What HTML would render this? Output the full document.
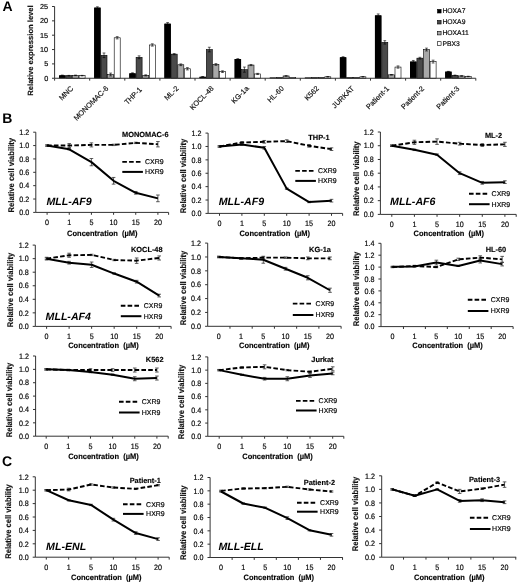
<!DOCTYPE html>
<html><head><meta charset="utf-8"><title>Figure</title>
<style>
html,body{margin:0;padding:0;background:#fff;}
body{width:520px;height:584px;overflow:hidden;}
svg{display:block;font-family:"Liberation Sans", sans-serif;text-rendering:geometricPrecision;filter:grayscale(1) blur(0.3px);}
text:not([font-weight]){stroke:#111;stroke-width:0.18px;}
.ax{stroke:#111;stroke-width:0.15px;}
</style></head>
<body>
<svg width="520" height="584" viewBox="0 0 520 584">
<rect width="520" height="584" fill="#fff"/>
<text x="2.6" y="11.3" font-size="14" font-weight="bold" fill="#000">A</text>
<text x="2.2" y="122.6" font-size="14" font-weight="bold" fill="#000">B</text>
<text x="2" y="466" font-size="14" font-weight="bold" fill="#000">C</text>
<rect x="59.3" y="75.38" width="6" height="2.87" fill="#000"/>
<rect x="59" y="75.38" width="6.6" height="2.87" fill="#000"/>
<line x1="62.3" y1="75.09" x2="62.3" y2="75.67" stroke="#000" stroke-width="0.6" />
<line x1="60.9" y1="75.09" x2="63.7" y2="75.09" stroke="#000" stroke-width="0.6" />
<line x1="60.9" y1="75.67" x2="63.7" y2="75.67" stroke="#000" stroke-width="0.6" />
<rect x="65.9" y="75.67" width="6" height="2.58" fill="#4a4a4a" stroke="#000" stroke-width="0.6"/>
<line x1="68.9" y1="75.38" x2="68.9" y2="75.95" stroke="#000" stroke-width="0.6" />
<line x1="67.5" y1="75.38" x2="70.3" y2="75.38" stroke="#000" stroke-width="0.6" />
<line x1="67.5" y1="75.95" x2="70.3" y2="75.95" stroke="#000" stroke-width="0.6" />
<rect x="72.5" y="75.38" width="6" height="2.87" fill="#a8a8a8" stroke="#000" stroke-width="0.6"/>
<line x1="75.5" y1="75.09" x2="75.5" y2="75.67" stroke="#000" stroke-width="0.6" />
<line x1="74.1" y1="75.09" x2="76.9" y2="75.09" stroke="#000" stroke-width="0.6" />
<line x1="74.1" y1="75.67" x2="76.9" y2="75.67" stroke="#000" stroke-width="0.6" />
<rect x="79.1" y="75.67" width="6" height="2.58" fill="#fff" stroke="#000" stroke-width="0.6"/>
<line x1="82.1" y1="75.38" x2="82.1" y2="75.95" stroke="#000" stroke-width="0.6" />
<line x1="80.7" y1="75.38" x2="83.5" y2="75.38" stroke="#000" stroke-width="0.6" />
<line x1="80.7" y1="75.95" x2="83.5" y2="75.95" stroke="#000" stroke-width="0.6" />
<text transform="translate(73.75,89) rotate(-45)" text-anchor="end" font-size="7.3" fill="#111">MNC</text>
<rect x="94.4" y="7.65" width="6" height="70.6" fill="#000"/>
<rect x="94.1" y="7.65" width="6.6" height="70.6" fill="#000"/>
<line x1="97.4" y1="6.79" x2="97.4" y2="8.51" stroke="#000" stroke-width="0.6" />
<line x1="96" y1="6.79" x2="98.8" y2="6.79" stroke="#000" stroke-width="0.6" />
<line x1="96" y1="8.51" x2="98.8" y2="8.51" stroke="#000" stroke-width="0.6" />
<rect x="101" y="55.29" width="6" height="22.96" fill="#4a4a4a" stroke="#000" stroke-width="0.6"/>
<line x1="104" y1="52.99" x2="104" y2="57.59" stroke="#000" stroke-width="0.6" />
<line x1="102.6" y1="52.99" x2="105.4" y2="52.99" stroke="#000" stroke-width="0.6" />
<line x1="102.6" y1="57.59" x2="105.4" y2="57.59" stroke="#000" stroke-width="0.6" />
<rect x="107.6" y="74.52" width="6" height="3.73" fill="#a8a8a8" stroke="#000" stroke-width="0.6"/>
<line x1="110.6" y1="73.08" x2="110.6" y2="75.95" stroke="#000" stroke-width="0.6" />
<line x1="109.2" y1="73.08" x2="112" y2="73.08" stroke="#000" stroke-width="0.6" />
<line x1="109.2" y1="75.95" x2="112" y2="75.95" stroke="#000" stroke-width="0.6" />
<rect x="114.2" y="37.78" width="6" height="40.47" fill="#fff" stroke="#000" stroke-width="0.6"/>
<line x1="117.2" y1="36.63" x2="117.2" y2="38.93" stroke="#000" stroke-width="0.6" />
<line x1="115.8" y1="36.63" x2="118.6" y2="36.63" stroke="#000" stroke-width="0.6" />
<line x1="115.8" y1="38.93" x2="118.6" y2="38.93" stroke="#000" stroke-width="0.6" />
<text transform="translate(108.85,89) rotate(-45)" text-anchor="end" font-size="7.3" fill="#111">MONOMAC-6</text>
<rect x="129.5" y="73.37" width="6" height="4.88" fill="#000"/>
<rect x="129.2" y="73.37" width="6.6" height="4.88" fill="#000"/>
<line x1="132.5" y1="72.8" x2="132.5" y2="73.94" stroke="#000" stroke-width="0.6" />
<line x1="131.1" y1="72.8" x2="133.9" y2="72.8" stroke="#000" stroke-width="0.6" />
<line x1="131.1" y1="73.94" x2="133.9" y2="73.94" stroke="#000" stroke-width="0.6" />
<rect x="136.1" y="57.3" width="6" height="20.95" fill="#4a4a4a" stroke="#000" stroke-width="0.6"/>
<line x1="139.1" y1="55.86" x2="139.1" y2="58.73" stroke="#000" stroke-width="0.6" />
<line x1="137.7" y1="55.86" x2="140.5" y2="55.86" stroke="#000" stroke-width="0.6" />
<line x1="137.7" y1="58.73" x2="140.5" y2="58.73" stroke="#000" stroke-width="0.6" />
<rect x="142.7" y="75.38" width="6" height="2.87" fill="#a8a8a8" stroke="#000" stroke-width="0.6"/>
<line x1="145.7" y1="74.81" x2="145.7" y2="75.95" stroke="#000" stroke-width="0.6" />
<line x1="144.3" y1="74.81" x2="147.1" y2="74.81" stroke="#000" stroke-width="0.6" />
<line x1="144.3" y1="75.95" x2="147.1" y2="75.95" stroke="#000" stroke-width="0.6" />
<rect x="149.3" y="44.96" width="6" height="33.29" fill="#fff" stroke="#000" stroke-width="0.6"/>
<line x1="152.3" y1="43.81" x2="152.3" y2="46.11" stroke="#000" stroke-width="0.6" />
<line x1="150.9" y1="43.81" x2="153.7" y2="43.81" stroke="#000" stroke-width="0.6" />
<line x1="150.9" y1="46.11" x2="153.7" y2="46.11" stroke="#000" stroke-width="0.6" />
<text transform="translate(142.35,90.2) rotate(-45)" text-anchor="end" font-size="7.3" fill="#111">THP-1</text>
<rect x="164.6" y="23.72" width="6" height="54.53" fill="#000"/>
<rect x="164.3" y="23.72" width="6.6" height="54.53" fill="#000"/>
<line x1="167.6" y1="22.57" x2="167.6" y2="24.87" stroke="#000" stroke-width="0.6" />
<line x1="166.2" y1="22.57" x2="169" y2="22.57" stroke="#000" stroke-width="0.6" />
<line x1="166.2" y1="24.87" x2="169" y2="24.87" stroke="#000" stroke-width="0.6" />
<rect x="171.2" y="54.14" width="6" height="24.11" fill="#4a4a4a" stroke="#000" stroke-width="0.6"/>
<line x1="174.2" y1="53.57" x2="174.2" y2="54.72" stroke="#000" stroke-width="0.6" />
<line x1="172.8" y1="53.57" x2="175.6" y2="53.57" stroke="#000" stroke-width="0.6" />
<line x1="172.8" y1="54.72" x2="175.6" y2="54.72" stroke="#000" stroke-width="0.6" />
<rect x="177.8" y="64.76" width="6" height="13.49" fill="#a8a8a8" stroke="#000" stroke-width="0.6"/>
<line x1="180.8" y1="63.9" x2="180.8" y2="65.62" stroke="#000" stroke-width="0.6" />
<line x1="179.4" y1="63.9" x2="182.2" y2="63.9" stroke="#000" stroke-width="0.6" />
<line x1="179.4" y1="65.62" x2="182.2" y2="65.62" stroke="#000" stroke-width="0.6" />
<rect x="184.4" y="68.78" width="6" height="9.47" fill="#fff" stroke="#000" stroke-width="0.6"/>
<line x1="187.4" y1="67.63" x2="187.4" y2="69.93" stroke="#000" stroke-width="0.6" />
<line x1="186" y1="67.63" x2="188.8" y2="67.63" stroke="#000" stroke-width="0.6" />
<line x1="186" y1="69.93" x2="188.8" y2="69.93" stroke="#000" stroke-width="0.6" />
<text transform="translate(179.05,89) rotate(-45)" text-anchor="end" font-size="7.3" fill="#111">ML-2</text>
<rect x="199.7" y="76.81" width="6" height="1.44" fill="#000"/>
<rect x="199.4" y="76.81" width="6.6" height="1.44" fill="#000"/>
<line x1="202.7" y1="76.53" x2="202.7" y2="77.1" stroke="#000" stroke-width="0.6" />
<line x1="201.3" y1="76.53" x2="204.1" y2="76.53" stroke="#000" stroke-width="0.6" />
<line x1="201.3" y1="77.1" x2="204.1" y2="77.1" stroke="#000" stroke-width="0.6" />
<rect x="206.3" y="49.55" width="6" height="28.7" fill="#4a4a4a" stroke="#000" stroke-width="0.6"/>
<line x1="209.3" y1="47.25" x2="209.3" y2="51.85" stroke="#000" stroke-width="0.6" />
<line x1="207.9" y1="47.25" x2="210.7" y2="47.25" stroke="#000" stroke-width="0.6" />
<line x1="207.9" y1="51.85" x2="210.7" y2="51.85" stroke="#000" stroke-width="0.6" />
<rect x="212.9" y="64.47" width="6" height="13.78" fill="#a8a8a8" stroke="#000" stroke-width="0.6"/>
<line x1="215.9" y1="63.61" x2="215.9" y2="65.33" stroke="#000" stroke-width="0.6" />
<line x1="214.5" y1="63.61" x2="217.3" y2="63.61" stroke="#000" stroke-width="0.6" />
<line x1="214.5" y1="65.33" x2="217.3" y2="65.33" stroke="#000" stroke-width="0.6" />
<rect x="219.5" y="71.65" width="6" height="6.6" fill="#fff" stroke="#000" stroke-width="0.6"/>
<line x1="222.5" y1="70.79" x2="222.5" y2="72.51" stroke="#000" stroke-width="0.6" />
<line x1="221.1" y1="70.79" x2="223.9" y2="70.79" stroke="#000" stroke-width="0.6" />
<line x1="221.1" y1="72.51" x2="223.9" y2="72.51" stroke="#000" stroke-width="0.6" />
<text transform="translate(214.15,89) rotate(-45)" text-anchor="end" font-size="7.3" fill="#111">KOCL-48</text>
<rect x="234.8" y="59.02" width="6" height="19.23" fill="#000"/>
<rect x="234.5" y="59.02" width="6.6" height="19.23" fill="#000"/>
<line x1="237.8" y1="58.73" x2="237.8" y2="59.31" stroke="#000" stroke-width="0.6" />
<line x1="236.4" y1="58.73" x2="239.2" y2="58.73" stroke="#000" stroke-width="0.6" />
<line x1="236.4" y1="59.31" x2="239.2" y2="59.31" stroke="#000" stroke-width="0.6" />
<rect x="241.4" y="69.64" width="6" height="8.61" fill="#4a4a4a" stroke="#000" stroke-width="0.6"/>
<line x1="244.4" y1="67.06" x2="244.4" y2="72.22" stroke="#000" stroke-width="0.6" />
<line x1="243" y1="67.06" x2="245.8" y2="67.06" stroke="#000" stroke-width="0.6" />
<line x1="243" y1="72.22" x2="245.8" y2="72.22" stroke="#000" stroke-width="0.6" />
<rect x="248" y="65.05" width="6" height="13.2" fill="#a8a8a8" stroke="#000" stroke-width="0.6"/>
<line x1="251" y1="64.47" x2="251" y2="65.62" stroke="#000" stroke-width="0.6" />
<line x1="249.6" y1="64.47" x2="252.4" y2="64.47" stroke="#000" stroke-width="0.6" />
<line x1="249.6" y1="65.62" x2="252.4" y2="65.62" stroke="#000" stroke-width="0.6" />
<rect x="254.6" y="73.94" width="6" height="4.3" fill="#fff" stroke="#000" stroke-width="0.6"/>
<line x1="257.6" y1="73.37" x2="257.6" y2="74.52" stroke="#000" stroke-width="0.6" />
<line x1="256.2" y1="73.37" x2="259" y2="73.37" stroke="#000" stroke-width="0.6" />
<line x1="256.2" y1="74.52" x2="259" y2="74.52" stroke="#000" stroke-width="0.6" />
<text transform="translate(249.25,89) rotate(-45)" text-anchor="end" font-size="7.3" fill="#111">KG-1a</text>
<rect x="269.9" y="77.65" width="6" height="0.6" fill="#000"/>
<rect x="269.6" y="77.65" width="6.6" height="0.6" fill="#000"/>
<rect x="276.5" y="77.65" width="6" height="0.6" fill="#4a4a4a" stroke="#000" stroke-width="0.6"/>
<rect x="283.1" y="75.95" width="6" height="2.3" fill="#a8a8a8" stroke="#000" stroke-width="0.6"/>
<line x1="286.1" y1="75.67" x2="286.1" y2="76.24" stroke="#000" stroke-width="0.6" />
<line x1="284.7" y1="75.67" x2="287.5" y2="75.67" stroke="#000" stroke-width="0.6" />
<line x1="284.7" y1="76.24" x2="287.5" y2="76.24" stroke="#000" stroke-width="0.6" />
<rect x="289.7" y="77.39" width="6" height="0.86" fill="#fff" stroke="#000" stroke-width="0.6"/>
<text transform="translate(284.35,89) rotate(-45)" text-anchor="end" font-size="7.3" fill="#111">HL-60</text>
<rect x="305" y="77.65" width="6" height="0.6" fill="#000"/>
<rect x="304.7" y="77.65" width="6.6" height="0.6" fill="#000"/>
<rect x="311.6" y="77.65" width="6" height="0.6" fill="#4a4a4a" stroke="#000" stroke-width="0.6"/>
<rect x="318.2" y="77.39" width="6" height="0.86" fill="#a8a8a8" stroke="#000" stroke-width="0.6"/>
<rect x="324.8" y="76.81" width="6" height="1.44" fill="#fff" stroke="#000" stroke-width="0.6"/>
<line x1="327.8" y1="76.53" x2="327.8" y2="77.1" stroke="#000" stroke-width="0.6" />
<line x1="326.4" y1="76.53" x2="329.2" y2="76.53" stroke="#000" stroke-width="0.6" />
<line x1="326.4" y1="77.1" x2="329.2" y2="77.1" stroke="#000" stroke-width="0.6" />
<text transform="translate(319.45,89) rotate(-45)" text-anchor="end" font-size="7.3" fill="#111">K562</text>
<rect x="340.1" y="57.3" width="6" height="20.95" fill="#000"/>
<rect x="339.8" y="57.3" width="6.6" height="20.95" fill="#000"/>
<line x1="343.1" y1="56.72" x2="343.1" y2="57.87" stroke="#000" stroke-width="0.6" />
<line x1="341.7" y1="56.72" x2="344.5" y2="56.72" stroke="#000" stroke-width="0.6" />
<line x1="341.7" y1="57.87" x2="344.5" y2="57.87" stroke="#000" stroke-width="0.6" />
<rect x="346.7" y="77.65" width="6" height="0.6" fill="#4a4a4a" stroke="#000" stroke-width="0.6"/>
<rect x="353.3" y="77.39" width="6" height="0.86" fill="#a8a8a8" stroke="#000" stroke-width="0.6"/>
<rect x="359.9" y="76.81" width="6" height="1.44" fill="#fff" stroke="#000" stroke-width="0.6"/>
<line x1="362.9" y1="76.53" x2="362.9" y2="77.1" stroke="#000" stroke-width="0.6" />
<line x1="361.5" y1="76.53" x2="364.3" y2="76.53" stroke="#000" stroke-width="0.6" />
<line x1="361.5" y1="77.1" x2="364.3" y2="77.1" stroke="#000" stroke-width="0.6" />
<text transform="translate(354.55,89) rotate(-45)" text-anchor="end" font-size="7.3" fill="#111">JURKAT</text>
<rect x="375.2" y="15.4" width="6" height="62.85" fill="#000"/>
<rect x="374.9" y="15.4" width="6.6" height="62.85" fill="#000"/>
<line x1="378.2" y1="13.96" x2="378.2" y2="16.83" stroke="#000" stroke-width="0.6" />
<line x1="376.8" y1="13.96" x2="379.6" y2="13.96" stroke="#000" stroke-width="0.6" />
<line x1="376.8" y1="16.83" x2="379.6" y2="16.83" stroke="#000" stroke-width="0.6" />
<rect x="381.8" y="42.38" width="6" height="35.88" fill="#4a4a4a" stroke="#000" stroke-width="0.6"/>
<line x1="384.8" y1="40.65" x2="384.8" y2="44.1" stroke="#000" stroke-width="0.6" />
<line x1="383.4" y1="40.65" x2="386.2" y2="40.65" stroke="#000" stroke-width="0.6" />
<line x1="383.4" y1="44.1" x2="386.2" y2="44.1" stroke="#000" stroke-width="0.6" />
<rect x="388.4" y="74.81" width="6" height="3.44" fill="#a8a8a8" stroke="#000" stroke-width="0.6"/>
<line x1="391.4" y1="74.52" x2="391.4" y2="75.09" stroke="#000" stroke-width="0.6" />
<line x1="390" y1="74.52" x2="392.8" y2="74.52" stroke="#000" stroke-width="0.6" />
<line x1="390" y1="75.09" x2="392.8" y2="75.09" stroke="#000" stroke-width="0.6" />
<rect x="395" y="67.06" width="6" height="11.19" fill="#fff" stroke="#000" stroke-width="0.6"/>
<line x1="398" y1="65.91" x2="398" y2="68.2" stroke="#000" stroke-width="0.6" />
<line x1="396.6" y1="65.91" x2="399.4" y2="65.91" stroke="#000" stroke-width="0.6" />
<line x1="396.6" y1="68.2" x2="399.4" y2="68.2" stroke="#000" stroke-width="0.6" />
<text transform="translate(389.65,89) rotate(-45)" text-anchor="end" font-size="7.3" fill="#111">Patient-1</text>
<rect x="410.3" y="61.6" width="6" height="16.65" fill="#000"/>
<rect x="410" y="61.6" width="6.6" height="16.65" fill="#000"/>
<line x1="413.3" y1="60.46" x2="413.3" y2="62.75" stroke="#000" stroke-width="0.6" />
<line x1="411.9" y1="60.46" x2="414.7" y2="60.46" stroke="#000" stroke-width="0.6" />
<line x1="411.9" y1="62.75" x2="414.7" y2="62.75" stroke="#000" stroke-width="0.6" />
<rect x="416.9" y="58.16" width="6" height="20.09" fill="#4a4a4a" stroke="#000" stroke-width="0.6"/>
<line x1="419.9" y1="57.3" x2="419.9" y2="59.02" stroke="#000" stroke-width="0.6" />
<line x1="418.5" y1="57.3" x2="421.3" y2="57.3" stroke="#000" stroke-width="0.6" />
<line x1="418.5" y1="59.02" x2="421.3" y2="59.02" stroke="#000" stroke-width="0.6" />
<rect x="423.5" y="49.55" width="6" height="28.7" fill="#a8a8a8" stroke="#000" stroke-width="0.6"/>
<line x1="426.5" y1="48.11" x2="426.5" y2="50.98" stroke="#000" stroke-width="0.6" />
<line x1="425.1" y1="48.11" x2="427.9" y2="48.11" stroke="#000" stroke-width="0.6" />
<line x1="425.1" y1="50.98" x2="427.9" y2="50.98" stroke="#000" stroke-width="0.6" />
<rect x="430.1" y="61.6" width="6" height="16.65" fill="#fff" stroke="#000" stroke-width="0.6"/>
<line x1="433.1" y1="60.17" x2="433.1" y2="63.04" stroke="#000" stroke-width="0.6" />
<line x1="431.7" y1="60.17" x2="434.5" y2="60.17" stroke="#000" stroke-width="0.6" />
<line x1="431.7" y1="63.04" x2="434.5" y2="63.04" stroke="#000" stroke-width="0.6" />
<text transform="translate(424.75,89) rotate(-45)" text-anchor="end" font-size="7.3" fill="#111">Patient-2</text>
<rect x="445.4" y="71.65" width="6" height="6.6" fill="#000"/>
<rect x="445.1" y="71.65" width="6.6" height="6.6" fill="#000"/>
<line x1="448.4" y1="71.36" x2="448.4" y2="71.94" stroke="#000" stroke-width="0.6" />
<line x1="447" y1="71.36" x2="449.8" y2="71.36" stroke="#000" stroke-width="0.6" />
<line x1="447" y1="71.94" x2="449.8" y2="71.94" stroke="#000" stroke-width="0.6" />
<rect x="452" y="75.38" width="6" height="2.87" fill="#4a4a4a" stroke="#000" stroke-width="0.6"/>
<line x1="455" y1="75.09" x2="455" y2="75.67" stroke="#000" stroke-width="0.6" />
<line x1="453.6" y1="75.09" x2="456.4" y2="75.09" stroke="#000" stroke-width="0.6" />
<line x1="453.6" y1="75.67" x2="456.4" y2="75.67" stroke="#000" stroke-width="0.6" />
<rect x="458.6" y="75.95" width="6" height="2.3" fill="#a8a8a8" stroke="#000" stroke-width="0.6"/>
<line x1="461.6" y1="75.67" x2="461.6" y2="76.24" stroke="#000" stroke-width="0.6" />
<line x1="460.2" y1="75.67" x2="463" y2="75.67" stroke="#000" stroke-width="0.6" />
<line x1="460.2" y1="76.24" x2="463" y2="76.24" stroke="#000" stroke-width="0.6" />
<rect x="465.2" y="76.53" width="6" height="1.72" fill="#fff" stroke="#000" stroke-width="0.6"/>
<line x1="468.2" y1="76.24" x2="468.2" y2="76.81" stroke="#000" stroke-width="0.6" />
<line x1="466.8" y1="76.24" x2="469.6" y2="76.24" stroke="#000" stroke-width="0.6" />
<line x1="466.8" y1="76.81" x2="469.6" y2="76.81" stroke="#000" stroke-width="0.6" />
<text transform="translate(459.85,89) rotate(-45)" text-anchor="end" font-size="7.3" fill="#111">Patient-3</text>
<line x1="54.6" y1="6.5" x2="54.6" y2="78.25" stroke="#333" stroke-width="1" />
<line x1="54.6" y1="78.25" x2="475.8" y2="78.25" stroke="#333" stroke-width="1" />
<line x1="52" y1="78.25" x2="54.6" y2="78.25" stroke="#333" stroke-width="1" />
<text x="48.2" y="80.81" font-size="7.3" text-anchor="end">0</text>
<line x1="52" y1="63.9" x2="54.6" y2="63.9" stroke="#333" stroke-width="1" />
<text x="48.2" y="66.45" font-size="7.3" text-anchor="end">5</text>
<line x1="52" y1="49.55" x2="54.6" y2="49.55" stroke="#333" stroke-width="1" />
<text x="48.2" y="52.1" font-size="7.3" text-anchor="end">10</text>
<line x1="52" y1="35.2" x2="54.6" y2="35.2" stroke="#333" stroke-width="1" />
<text x="48.2" y="37.75" font-size="7.3" text-anchor="end">15</text>
<line x1="52" y1="20.85" x2="54.6" y2="20.85" stroke="#333" stroke-width="1" />
<text x="48.2" y="23.4" font-size="7.3" text-anchor="end">20</text>
<line x1="52" y1="6.5" x2="54.6" y2="6.5" stroke="#333" stroke-width="1" />
<text x="48.2" y="9.05" font-size="7.3" text-anchor="end">25</text>
<line x1="54.6" y1="78.25" x2="54.6" y2="80.65" stroke="#333" stroke-width="1" />
<line x1="89.7" y1="78.25" x2="89.7" y2="80.65" stroke="#333" stroke-width="1" />
<line x1="124.8" y1="78.25" x2="124.8" y2="80.65" stroke="#333" stroke-width="1" />
<line x1="159.9" y1="78.25" x2="159.9" y2="80.65" stroke="#333" stroke-width="1" />
<line x1="195" y1="78.25" x2="195" y2="80.65" stroke="#333" stroke-width="1" />
<line x1="230.1" y1="78.25" x2="230.1" y2="80.65" stroke="#333" stroke-width="1" />
<line x1="265.2" y1="78.25" x2="265.2" y2="80.65" stroke="#333" stroke-width="1" />
<line x1="300.3" y1="78.25" x2="300.3" y2="80.65" stroke="#333" stroke-width="1" />
<line x1="335.4" y1="78.25" x2="335.4" y2="80.65" stroke="#333" stroke-width="1" />
<line x1="370.5" y1="78.25" x2="370.5" y2="80.65" stroke="#333" stroke-width="1" />
<line x1="405.6" y1="78.25" x2="405.6" y2="80.65" stroke="#333" stroke-width="1" />
<line x1="440.7" y1="78.25" x2="440.7" y2="80.65" stroke="#333" stroke-width="1" />
<line x1="475.8" y1="78.25" x2="475.8" y2="80.65" stroke="#333" stroke-width="1" />
<text transform="translate(32.96,50.5) rotate(-90)" class="ax" text-anchor="middle" font-size="7.6" font-weight="bold" fill="#111">Relative expression level</text>
<rect x="437.5" y="9.4" width="3.6" height="3.6" fill="#000" stroke="#000" stroke-width="0.6"/>
<text x="442.4" y="13.28" font-size="6.8">HOXA7</text>
<rect x="437.5" y="20.4" width="3.6" height="3.6" fill="#4a4a4a" stroke="#000" stroke-width="0.6"/>
<text x="442.4" y="24.28" font-size="6.8">HOXA9</text>
<rect x="437.5" y="31.3" width="3.6" height="3.6" fill="#a8a8a8" stroke="#000" stroke-width="0.6"/>
<text x="442.4" y="35.18" font-size="6.8">HOXA11</text>
<rect x="437.5" y="41.7" width="3.6" height="3.6" fill="#fff" stroke="#000" stroke-width="0.6"/>
<text x="442.4" y="45.58" font-size="6.8">PBX3</text>
<line x1="35.8" y1="132.2" x2="35.8" y2="212.4" stroke="#333" stroke-width="1" />
<line x1="35.8" y1="212.4" x2="168.6" y2="212.4" stroke="#333" stroke-width="1" />
<line x1="33.2" y1="212.4" x2="35.8" y2="212.4" stroke="#333" stroke-width="1" />
<text transform="translate(29.2,215.13) scale(0.92,1)" font-size="7.8" text-anchor="end">0.0</text>
<line x1="33.2" y1="199.03" x2="35.8" y2="199.03" stroke="#333" stroke-width="1" />
<text transform="translate(29.2,201.76) scale(0.92,1)" font-size="7.8" text-anchor="end">0.2</text>
<line x1="33.2" y1="185.67" x2="35.8" y2="185.67" stroke="#333" stroke-width="1" />
<text transform="translate(29.2,188.4) scale(0.92,1)" font-size="7.8" text-anchor="end">0.4</text>
<line x1="33.2" y1="172.3" x2="35.8" y2="172.3" stroke="#333" stroke-width="1" />
<text transform="translate(29.2,175.03) scale(0.92,1)" font-size="7.8" text-anchor="end">0.6</text>
<line x1="33.2" y1="158.93" x2="35.8" y2="158.93" stroke="#333" stroke-width="1" />
<text transform="translate(29.2,161.66) scale(0.92,1)" font-size="7.8" text-anchor="end">0.8</text>
<line x1="33.2" y1="145.57" x2="35.8" y2="145.57" stroke="#333" stroke-width="1" />
<text transform="translate(29.2,148.3) scale(0.92,1)" font-size="7.8" text-anchor="end">1.0</text>
<line x1="33.2" y1="132.2" x2="35.8" y2="132.2" stroke="#333" stroke-width="1" />
<text transform="translate(29.2,134.93) scale(0.92,1)" font-size="7.8" text-anchor="end">1.2</text>
<line x1="47.1" y1="212.4" x2="47.1" y2="214.8" stroke="#333" stroke-width="1" />
<line x1="69.26" y1="212.4" x2="69.26" y2="214.8" stroke="#333" stroke-width="1" />
<line x1="91.42" y1="212.4" x2="91.42" y2="214.8" stroke="#333" stroke-width="1" />
<line x1="113.58" y1="212.4" x2="113.58" y2="214.8" stroke="#333" stroke-width="1" />
<line x1="135.74" y1="212.4" x2="135.74" y2="214.8" stroke="#333" stroke-width="1" />
<line x1="157.9" y1="212.4" x2="157.9" y2="214.8" stroke="#333" stroke-width="1" />
<line x1="168.6" y1="212.4" x2="168.6" y2="214.8" stroke="#333" stroke-width="1" />
<text transform="translate(47.1,225.13) scale(0.92,1)" font-size="7.8" text-anchor="middle">0</text>
<text transform="translate(69.26,225.13) scale(0.92,1)" font-size="7.8" text-anchor="middle">1</text>
<text transform="translate(91.42,225.13) scale(0.92,1)" font-size="7.8" text-anchor="middle">5</text>
<text transform="translate(113.58,225.13) scale(0.92,1)" font-size="7.8" text-anchor="middle">10</text>
<text transform="translate(135.74,225.13) scale(0.92,1)" font-size="7.8" text-anchor="middle">15</text>
<text transform="translate(157.9,225.13) scale(0.92,1)" font-size="7.8" text-anchor="middle">20</text>
<text transform="translate(102.35,235.81) scale(0.95,1)" font-size="7.9" font-weight="bold" text-anchor="middle" class="ax">Concentration  (µM)</text>
<text transform="translate(13.85,175.2) rotate(-90) scale(0.93,1)" class="ax" text-anchor="middle" font-size="8.2" font-weight="bold" fill="#111">Relative cell viability</text>
<line x1="47.1" y1="144.9" x2="47.1" y2="146.23" stroke="#333" stroke-width="0.8" />
<line x1="45.3" y1="144.9" x2="48.9" y2="144.9" stroke="#333" stroke-width="0.8" />
<line x1="45.3" y1="146.23" x2="48.9" y2="146.23" stroke="#333" stroke-width="0.8" />
<line x1="69.26" y1="143.56" x2="69.26" y2="147.57" stroke="#333" stroke-width="0.8" />
<line x1="67.46" y1="143.56" x2="71.06" y2="143.56" stroke="#333" stroke-width="0.8" />
<line x1="67.46" y1="147.57" x2="71.06" y2="147.57" stroke="#333" stroke-width="0.8" />
<line x1="91.42" y1="142.89" x2="91.42" y2="146.9" stroke="#333" stroke-width="0.8" />
<line x1="89.62" y1="142.89" x2="93.22" y2="142.89" stroke="#333" stroke-width="0.8" />
<line x1="89.62" y1="146.9" x2="93.22" y2="146.9" stroke="#333" stroke-width="0.8" />
<line x1="113.58" y1="144.23" x2="113.58" y2="145.57" stroke="#333" stroke-width="0.8" />
<line x1="111.78" y1="144.23" x2="115.38" y2="144.23" stroke="#333" stroke-width="0.8" />
<line x1="111.78" y1="145.57" x2="115.38" y2="145.57" stroke="#333" stroke-width="0.8" />
<line x1="135.74" y1="142.22" x2="135.74" y2="143.56" stroke="#333" stroke-width="0.8" />
<line x1="133.94" y1="142.22" x2="137.54" y2="142.22" stroke="#333" stroke-width="0.8" />
<line x1="133.94" y1="143.56" x2="137.54" y2="143.56" stroke="#333" stroke-width="0.8" />
<line x1="157.9" y1="141.56" x2="157.9" y2="146.9" stroke="#333" stroke-width="0.8" />
<line x1="156.1" y1="141.56" x2="159.7" y2="141.56" stroke="#333" stroke-width="0.8" />
<line x1="156.1" y1="146.9" x2="159.7" y2="146.9" stroke="#333" stroke-width="0.8" />
<line x1="47.1" y1="144.9" x2="47.1" y2="146.23" stroke="#333" stroke-width="0.8" />
<line x1="45.3" y1="144.9" x2="48.9" y2="144.9" stroke="#333" stroke-width="0.8" />
<line x1="45.3" y1="146.23" x2="48.9" y2="146.23" stroke="#333" stroke-width="0.8" />
<line x1="69.26" y1="148.64" x2="69.26" y2="149.98" stroke="#333" stroke-width="0.8" />
<line x1="67.46" y1="148.64" x2="71.06" y2="148.64" stroke="#333" stroke-width="0.8" />
<line x1="67.46" y1="149.98" x2="71.06" y2="149.98" stroke="#333" stroke-width="0.8" />
<line x1="91.42" y1="158.53" x2="91.42" y2="165.75" stroke="#333" stroke-width="0.8" />
<line x1="89.62" y1="158.53" x2="93.22" y2="158.53" stroke="#333" stroke-width="0.8" />
<line x1="89.62" y1="165.75" x2="93.22" y2="165.75" stroke="#333" stroke-width="0.8" />
<line x1="113.58" y1="177.45" x2="113.58" y2="184.13" stroke="#333" stroke-width="0.8" />
<line x1="111.78" y1="177.45" x2="115.38" y2="177.45" stroke="#333" stroke-width="0.8" />
<line x1="111.78" y1="184.13" x2="115.38" y2="184.13" stroke="#333" stroke-width="0.8" />
<line x1="135.74" y1="191.48" x2="135.74" y2="194.15" stroke="#333" stroke-width="0.8" />
<line x1="133.94" y1="191.48" x2="137.54" y2="191.48" stroke="#333" stroke-width="0.8" />
<line x1="133.94" y1="194.15" x2="137.54" y2="194.15" stroke="#333" stroke-width="0.8" />
<line x1="157.9" y1="195.02" x2="157.9" y2="201.71" stroke="#333" stroke-width="0.8" />
<line x1="156.1" y1="195.02" x2="159.7" y2="195.02" stroke="#333" stroke-width="0.8" />
<line x1="156.1" y1="201.71" x2="159.7" y2="201.71" stroke="#333" stroke-width="0.8" />
<path d="M47.1,145.57 L69.26,145.57 L91.42,144.9 L113.58,144.9 L135.74,142.89 L157.9,144.23" fill="none" stroke="#000" stroke-width="1.9" stroke-dasharray="4.6,2.2" stroke-linejoin="round"/>
<path d="M47.1,145.57 L69.26,149.31 L91.42,162.14 L113.58,180.79 L135.74,192.82 L157.9,198.37" fill="none" stroke="#000" stroke-width="2" stroke-linejoin="round"/>
<text x="168.5" y="137.04" font-size="7.4" font-weight="bold" text-anchor="end" class="ax">MONOMAC-6</text>
<line x1="122.3" y1="161.9" x2="141.3" y2="161.9" stroke="#000" stroke-width="1.9" stroke-dasharray="4.6,2.2"/>
<line x1="122.3" y1="171.9" x2="142.9" y2="171.9" stroke="#000" stroke-width="2" />
<text x="145" y="164.35" font-size="7">CXR9</text>
<text x="145" y="174.35" font-size="7">HXR9</text>
<text x="46.4" y="205.46" font-size="10.6" font-weight="bold" font-style="italic" fill="#000">MLL-AF9</text>
<line x1="208.1" y1="133.1" x2="208.1" y2="213.4" stroke="#333" stroke-width="1" />
<line x1="208.1" y1="213.4" x2="342.6" y2="213.4" stroke="#333" stroke-width="1" />
<line x1="205.5" y1="213.4" x2="208.1" y2="213.4" stroke="#333" stroke-width="1" />
<text transform="translate(201.5,216.13) scale(0.92,1)" font-size="7.8" text-anchor="end">0.0</text>
<line x1="205.5" y1="200.02" x2="208.1" y2="200.02" stroke="#333" stroke-width="1" />
<text transform="translate(201.5,202.75) scale(0.92,1)" font-size="7.8" text-anchor="end">0.2</text>
<line x1="205.5" y1="186.63" x2="208.1" y2="186.63" stroke="#333" stroke-width="1" />
<text transform="translate(201.5,189.36) scale(0.92,1)" font-size="7.8" text-anchor="end">0.4</text>
<line x1="205.5" y1="173.25" x2="208.1" y2="173.25" stroke="#333" stroke-width="1" />
<text transform="translate(201.5,175.98) scale(0.92,1)" font-size="7.8" text-anchor="end">0.6</text>
<line x1="205.5" y1="159.87" x2="208.1" y2="159.87" stroke="#333" stroke-width="1" />
<text transform="translate(201.5,162.6) scale(0.92,1)" font-size="7.8" text-anchor="end">0.8</text>
<line x1="205.5" y1="146.48" x2="208.1" y2="146.48" stroke="#333" stroke-width="1" />
<text transform="translate(201.5,149.21) scale(0.92,1)" font-size="7.8" text-anchor="end">1.0</text>
<line x1="205.5" y1="133.1" x2="208.1" y2="133.1" stroke="#333" stroke-width="1" />
<text transform="translate(201.5,135.83) scale(0.92,1)" font-size="7.8" text-anchor="end">1.2</text>
<line x1="219.5" y1="213.4" x2="219.5" y2="215.8" stroke="#333" stroke-width="1" />
<line x1="241.9" y1="213.4" x2="241.9" y2="215.8" stroke="#333" stroke-width="1" />
<line x1="264.3" y1="213.4" x2="264.3" y2="215.8" stroke="#333" stroke-width="1" />
<line x1="286.7" y1="213.4" x2="286.7" y2="215.8" stroke="#333" stroke-width="1" />
<line x1="309.1" y1="213.4" x2="309.1" y2="215.8" stroke="#333" stroke-width="1" />
<line x1="331.5" y1="213.4" x2="331.5" y2="215.8" stroke="#333" stroke-width="1" />
<line x1="342.6" y1="213.4" x2="342.6" y2="215.8" stroke="#333" stroke-width="1" />
<text transform="translate(219.5,226.13) scale(0.92,1)" font-size="7.8" text-anchor="middle">0</text>
<text transform="translate(241.9,226.13) scale(0.92,1)" font-size="7.8" text-anchor="middle">1</text>
<text transform="translate(264.3,226.13) scale(0.92,1)" font-size="7.8" text-anchor="middle">5</text>
<text transform="translate(286.7,226.13) scale(0.92,1)" font-size="7.8" text-anchor="middle">10</text>
<text transform="translate(309.1,226.13) scale(0.92,1)" font-size="7.8" text-anchor="middle">15</text>
<text transform="translate(331.5,226.13) scale(0.92,1)" font-size="7.8" text-anchor="middle">20</text>
<text transform="translate(274.7,236.16) scale(0.95,1)" font-size="7.9" font-weight="bold" text-anchor="middle" class="ax">Concentration  (µM)</text>
<text transform="translate(185.75,176.1) rotate(-90) scale(0.93,1)" class="ax" text-anchor="middle" font-size="8.2" font-weight="bold" fill="#111">Relative cell viability</text>
<line x1="219.5" y1="145.81" x2="219.5" y2="147.15" stroke="#333" stroke-width="0.8" />
<line x1="217.7" y1="145.81" x2="221.3" y2="145.81" stroke="#333" stroke-width="0.8" />
<line x1="217.7" y1="147.15" x2="221.3" y2="147.15" stroke="#333" stroke-width="0.8" />
<line x1="241.9" y1="141.8" x2="241.9" y2="143.14" stroke="#333" stroke-width="0.8" />
<line x1="240.1" y1="141.8" x2="243.7" y2="141.8" stroke="#333" stroke-width="0.8" />
<line x1="240.1" y1="143.14" x2="243.7" y2="143.14" stroke="#333" stroke-width="0.8" />
<line x1="264.3" y1="140.46" x2="264.3" y2="143.14" stroke="#333" stroke-width="0.8" />
<line x1="262.5" y1="140.46" x2="266.1" y2="140.46" stroke="#333" stroke-width="0.8" />
<line x1="262.5" y1="143.14" x2="266.1" y2="143.14" stroke="#333" stroke-width="0.8" />
<line x1="286.7" y1="139.79" x2="286.7" y2="142.47" stroke="#333" stroke-width="0.8" />
<line x1="284.9" y1="139.79" x2="288.5" y2="139.79" stroke="#333" stroke-width="0.8" />
<line x1="284.9" y1="142.47" x2="288.5" y2="142.47" stroke="#333" stroke-width="0.8" />
<line x1="309.1" y1="144.48" x2="309.1" y2="147.15" stroke="#333" stroke-width="0.8" />
<line x1="307.3" y1="144.48" x2="310.9" y2="144.48" stroke="#333" stroke-width="0.8" />
<line x1="307.3" y1="147.15" x2="310.9" y2="147.15" stroke="#333" stroke-width="0.8" />
<line x1="331.5" y1="147.82" x2="331.5" y2="150.5" stroke="#333" stroke-width="0.8" />
<line x1="329.7" y1="147.82" x2="333.3" y2="147.82" stroke="#333" stroke-width="0.8" />
<line x1="329.7" y1="150.5" x2="333.3" y2="150.5" stroke="#333" stroke-width="0.8" />
<line x1="219.5" y1="145.81" x2="219.5" y2="147.15" stroke="#333" stroke-width="0.8" />
<line x1="217.7" y1="145.81" x2="221.3" y2="145.81" stroke="#333" stroke-width="0.8" />
<line x1="217.7" y1="147.15" x2="221.3" y2="147.15" stroke="#333" stroke-width="0.8" />
<line x1="241.9" y1="143.81" x2="241.9" y2="145.14" stroke="#333" stroke-width="0.8" />
<line x1="240.1" y1="143.81" x2="243.7" y2="143.81" stroke="#333" stroke-width="0.8" />
<line x1="240.1" y1="145.14" x2="243.7" y2="145.14" stroke="#333" stroke-width="0.8" />
<line x1="264.3" y1="146.48" x2="264.3" y2="149.16" stroke="#333" stroke-width="0.8" />
<line x1="262.5" y1="146.48" x2="266.1" y2="146.48" stroke="#333" stroke-width="0.8" />
<line x1="262.5" y1="149.16" x2="266.1" y2="149.16" stroke="#333" stroke-width="0.8" />
<line x1="286.7" y1="187.97" x2="286.7" y2="189.31" stroke="#333" stroke-width="0.8" />
<line x1="284.9" y1="187.97" x2="288.5" y2="187.97" stroke="#333" stroke-width="0.8" />
<line x1="284.9" y1="189.31" x2="288.5" y2="189.31" stroke="#333" stroke-width="0.8" />
<line x1="309.1" y1="201.35" x2="309.1" y2="202.69" stroke="#333" stroke-width="0.8" />
<line x1="307.3" y1="201.35" x2="310.9" y2="201.35" stroke="#333" stroke-width="0.8" />
<line x1="307.3" y1="202.69" x2="310.9" y2="202.69" stroke="#333" stroke-width="0.8" />
<line x1="331.5" y1="199.35" x2="331.5" y2="202.02" stroke="#333" stroke-width="0.8" />
<line x1="329.7" y1="199.35" x2="333.3" y2="199.35" stroke="#333" stroke-width="0.8" />
<line x1="329.7" y1="202.02" x2="333.3" y2="202.02" stroke="#333" stroke-width="0.8" />
<path d="M219.5,146.48 L241.9,142.47 L264.3,141.8 L286.7,141.13 L309.1,145.81 L331.5,149.16" fill="none" stroke="#000" stroke-width="1.9" stroke-dasharray="4.6,2.2" stroke-linejoin="round"/>
<path d="M219.5,146.48 L241.9,144.48 L264.3,147.82 L286.7,188.64 L309.1,202.02 L331.5,200.69" fill="none" stroke="#000" stroke-width="2" stroke-linejoin="round"/>
<text x="329.7" y="140.29" font-size="7.4" font-weight="bold" text-anchor="end" class="ax">THP-1</text>
<line x1="295.3" y1="170.9" x2="314.3" y2="170.9" stroke="#000" stroke-width="1.9" stroke-dasharray="4.6,2.2"/>
<line x1="295.3" y1="180.9" x2="315.9" y2="180.9" stroke="#000" stroke-width="2" />
<text x="318" y="173.35" font-size="7">CXR9</text>
<text x="318" y="183.35" font-size="7">HXR9</text>
<text x="218.8" y="205.46" font-size="10.6" font-weight="bold" font-style="italic" fill="#000">MLL-AF9</text>
<line x1="380.4" y1="132" x2="380.4" y2="214.4" stroke="#333" stroke-width="1" />
<line x1="380.4" y1="214.4" x2="516.2" y2="214.4" stroke="#333" stroke-width="1" />
<line x1="377.8" y1="214.4" x2="380.4" y2="214.4" stroke="#333" stroke-width="1" />
<text transform="translate(373.8,217.13) scale(0.92,1)" font-size="7.8" text-anchor="end">0.0</text>
<line x1="377.8" y1="200.67" x2="380.4" y2="200.67" stroke="#333" stroke-width="1" />
<text transform="translate(373.8,203.4) scale(0.92,1)" font-size="7.8" text-anchor="end">0.2</text>
<line x1="377.8" y1="186.93" x2="380.4" y2="186.93" stroke="#333" stroke-width="1" />
<text transform="translate(373.8,189.66) scale(0.92,1)" font-size="7.8" text-anchor="end">0.4</text>
<line x1="377.8" y1="173.2" x2="380.4" y2="173.2" stroke="#333" stroke-width="1" />
<text transform="translate(373.8,175.93) scale(0.92,1)" font-size="7.8" text-anchor="end">0.6</text>
<line x1="377.8" y1="159.47" x2="380.4" y2="159.47" stroke="#333" stroke-width="1" />
<text transform="translate(373.8,162.2) scale(0.92,1)" font-size="7.8" text-anchor="end">0.8</text>
<line x1="377.8" y1="145.73" x2="380.4" y2="145.73" stroke="#333" stroke-width="1" />
<text transform="translate(373.8,148.46) scale(0.92,1)" font-size="7.8" text-anchor="end">1.0</text>
<line x1="377.8" y1="132" x2="380.4" y2="132" stroke="#333" stroke-width="1" />
<text transform="translate(373.8,134.73) scale(0.92,1)" font-size="7.8" text-anchor="end">1.2</text>
<line x1="391.8" y1="214.4" x2="391.8" y2="216.8" stroke="#333" stroke-width="1" />
<line x1="414.42" y1="214.4" x2="414.42" y2="216.8" stroke="#333" stroke-width="1" />
<line x1="437.04" y1="214.4" x2="437.04" y2="216.8" stroke="#333" stroke-width="1" />
<line x1="459.66" y1="214.4" x2="459.66" y2="216.8" stroke="#333" stroke-width="1" />
<line x1="482.28" y1="214.4" x2="482.28" y2="216.8" stroke="#333" stroke-width="1" />
<line x1="504.9" y1="214.4" x2="504.9" y2="216.8" stroke="#333" stroke-width="1" />
<line x1="516.2" y1="214.4" x2="516.2" y2="216.8" stroke="#333" stroke-width="1" />
<text transform="translate(391.8,227.13) scale(0.92,1)" font-size="7.8" text-anchor="middle">0</text>
<text transform="translate(414.42,227.13) scale(0.92,1)" font-size="7.8" text-anchor="middle">1</text>
<text transform="translate(437.04,227.13) scale(0.92,1)" font-size="7.8" text-anchor="middle">5</text>
<text transform="translate(459.66,227.13) scale(0.92,1)" font-size="7.8" text-anchor="middle">10</text>
<text transform="translate(482.28,227.13) scale(0.92,1)" font-size="7.8" text-anchor="middle">15</text>
<text transform="translate(504.9,227.13) scale(0.92,1)" font-size="7.8" text-anchor="middle">20</text>
<text transform="translate(448.85,235.66) scale(0.95,1)" font-size="7.9" font-weight="bold" text-anchor="middle" class="ax">Concentration  (µM)</text>
<text transform="translate(359.15,178.7) rotate(-90) scale(0.93,1)" class="ax" text-anchor="middle" font-size="8.2" font-weight="bold" fill="#111">Relative cell viability</text>
<line x1="391.8" y1="145.05" x2="391.8" y2="146.42" stroke="#333" stroke-width="0.8" />
<line x1="390" y1="145.05" x2="393.6" y2="145.05" stroke="#333" stroke-width="0.8" />
<line x1="390" y1="146.42" x2="393.6" y2="146.42" stroke="#333" stroke-width="0.8" />
<line x1="414.42" y1="140.24" x2="414.42" y2="144.36" stroke="#333" stroke-width="0.8" />
<line x1="412.62" y1="140.24" x2="416.22" y2="140.24" stroke="#333" stroke-width="0.8" />
<line x1="412.62" y1="144.36" x2="416.22" y2="144.36" stroke="#333" stroke-width="0.8" />
<line x1="437.04" y1="138.87" x2="437.04" y2="144.36" stroke="#333" stroke-width="0.8" />
<line x1="435.24" y1="138.87" x2="438.84" y2="138.87" stroke="#333" stroke-width="0.8" />
<line x1="435.24" y1="144.36" x2="438.84" y2="144.36" stroke="#333" stroke-width="0.8" />
<line x1="459.66" y1="142.3" x2="459.66" y2="145.05" stroke="#333" stroke-width="0.8" />
<line x1="457.86" y1="142.3" x2="461.46" y2="142.3" stroke="#333" stroke-width="0.8" />
<line x1="457.86" y1="145.05" x2="461.46" y2="145.05" stroke="#333" stroke-width="0.8" />
<line x1="482.28" y1="143.67" x2="482.28" y2="146.42" stroke="#333" stroke-width="0.8" />
<line x1="480.48" y1="143.67" x2="484.08" y2="143.67" stroke="#333" stroke-width="0.8" />
<line x1="480.48" y1="146.42" x2="484.08" y2="146.42" stroke="#333" stroke-width="0.8" />
<line x1="504.9" y1="142.3" x2="504.9" y2="146.42" stroke="#333" stroke-width="0.8" />
<line x1="503.1" y1="142.3" x2="506.7" y2="142.3" stroke="#333" stroke-width="0.8" />
<line x1="503.1" y1="146.42" x2="506.7" y2="146.42" stroke="#333" stroke-width="0.8" />
<line x1="391.8" y1="145.05" x2="391.8" y2="146.42" stroke="#333" stroke-width="0.8" />
<line x1="390" y1="145.05" x2="393.6" y2="145.05" stroke="#333" stroke-width="0.8" />
<line x1="390" y1="146.42" x2="393.6" y2="146.42" stroke="#333" stroke-width="0.8" />
<line x1="414.42" y1="149.17" x2="414.42" y2="150.54" stroke="#333" stroke-width="0.8" />
<line x1="412.62" y1="149.17" x2="416.22" y2="149.17" stroke="#333" stroke-width="0.8" />
<line x1="412.62" y1="150.54" x2="416.22" y2="150.54" stroke="#333" stroke-width="0.8" />
<line x1="437.04" y1="153.97" x2="437.04" y2="155.35" stroke="#333" stroke-width="0.8" />
<line x1="435.24" y1="153.97" x2="438.84" y2="153.97" stroke="#333" stroke-width="0.8" />
<line x1="435.24" y1="155.35" x2="438.84" y2="155.35" stroke="#333" stroke-width="0.8" />
<line x1="459.66" y1="171.83" x2="459.66" y2="174.57" stroke="#333" stroke-width="0.8" />
<line x1="457.86" y1="171.83" x2="461.46" y2="171.83" stroke="#333" stroke-width="0.8" />
<line x1="457.86" y1="174.57" x2="461.46" y2="174.57" stroke="#333" stroke-width="0.8" />
<line x1="482.28" y1="181.44" x2="482.28" y2="184.19" stroke="#333" stroke-width="0.8" />
<line x1="480.48" y1="181.44" x2="484.08" y2="181.44" stroke="#333" stroke-width="0.8" />
<line x1="480.48" y1="184.19" x2="484.08" y2="184.19" stroke="#333" stroke-width="0.8" />
<line x1="504.9" y1="180.75" x2="504.9" y2="183.5" stroke="#333" stroke-width="0.8" />
<line x1="503.1" y1="180.75" x2="506.7" y2="180.75" stroke="#333" stroke-width="0.8" />
<line x1="503.1" y1="183.5" x2="506.7" y2="183.5" stroke="#333" stroke-width="0.8" />
<path d="M391.8,145.73 L414.42,142.3 L437.04,141.61 L459.66,143.67 L482.28,145.05 L504.9,144.36" fill="none" stroke="#000" stroke-width="1.9" stroke-dasharray="4.6,2.2" stroke-linejoin="round"/>
<path d="M391.8,145.73 L414.42,149.85 L437.04,154.66 L459.66,173.2 L482.28,182.81 L504.9,182.13" fill="none" stroke="#000" stroke-width="2" stroke-linejoin="round"/>
<text x="502.2" y="138.09" font-size="7.4" font-weight="bold" text-anchor="end" class="ax">ML-2</text>
<line x1="469" y1="193.7" x2="488" y2="193.7" stroke="#000" stroke-width="1.9" stroke-dasharray="4.6,2.2"/>
<line x1="469" y1="204.2" x2="489.6" y2="204.2" stroke="#000" stroke-width="2" />
<text x="491.6" y="196.15" font-size="7">CXR9</text>
<text x="491.6" y="206.65" font-size="7">HXR9</text>
<text x="390.1" y="205.21" font-size="10.6" font-weight="bold" font-style="italic" fill="#000">MLL-AF6</text>
<line x1="35.3" y1="245.1" x2="35.3" y2="326.4" stroke="#333" stroke-width="1" />
<line x1="35.3" y1="326.4" x2="171.1" y2="326.4" stroke="#333" stroke-width="1" />
<line x1="32.7" y1="326.4" x2="35.3" y2="326.4" stroke="#333" stroke-width="1" />
<text transform="translate(28.7,329.13) scale(0.92,1)" font-size="7.8" text-anchor="end">0.0</text>
<line x1="32.7" y1="312.85" x2="35.3" y2="312.85" stroke="#333" stroke-width="1" />
<text transform="translate(28.7,315.58) scale(0.92,1)" font-size="7.8" text-anchor="end">0.2</text>
<line x1="32.7" y1="299.3" x2="35.3" y2="299.3" stroke="#333" stroke-width="1" />
<text transform="translate(28.7,302.03) scale(0.92,1)" font-size="7.8" text-anchor="end">0.4</text>
<line x1="32.7" y1="285.75" x2="35.3" y2="285.75" stroke="#333" stroke-width="1" />
<text transform="translate(28.7,288.48) scale(0.92,1)" font-size="7.8" text-anchor="end">0.6</text>
<line x1="32.7" y1="272.2" x2="35.3" y2="272.2" stroke="#333" stroke-width="1" />
<text transform="translate(28.7,274.93) scale(0.92,1)" font-size="7.8" text-anchor="end">0.8</text>
<line x1="32.7" y1="258.65" x2="35.3" y2="258.65" stroke="#333" stroke-width="1" />
<text transform="translate(28.7,261.38) scale(0.92,1)" font-size="7.8" text-anchor="end">1.0</text>
<line x1="32.7" y1="245.1" x2="35.3" y2="245.1" stroke="#333" stroke-width="1" />
<text transform="translate(28.7,247.83) scale(0.92,1)" font-size="7.8" text-anchor="end">1.2</text>
<line x1="46.6" y1="326.4" x2="46.6" y2="328.8" stroke="#333" stroke-width="1" />
<line x1="69.12" y1="326.4" x2="69.12" y2="328.8" stroke="#333" stroke-width="1" />
<line x1="91.64" y1="326.4" x2="91.64" y2="328.8" stroke="#333" stroke-width="1" />
<line x1="114.16" y1="326.4" x2="114.16" y2="328.8" stroke="#333" stroke-width="1" />
<line x1="136.68" y1="326.4" x2="136.68" y2="328.8" stroke="#333" stroke-width="1" />
<line x1="159.2" y1="326.4" x2="159.2" y2="328.8" stroke="#333" stroke-width="1" />
<line x1="171.1" y1="326.4" x2="171.1" y2="328.8" stroke="#333" stroke-width="1" />
<text transform="translate(46.6,339.13) scale(0.92,1)" font-size="7.8" text-anchor="middle">0</text>
<text transform="translate(69.12,339.13) scale(0.92,1)" font-size="7.8" text-anchor="middle">1</text>
<text transform="translate(91.64,339.13) scale(0.92,1)" font-size="7.8" text-anchor="middle">5</text>
<text transform="translate(114.16,339.13) scale(0.92,1)" font-size="7.8" text-anchor="middle">10</text>
<text transform="translate(136.68,339.13) scale(0.92,1)" font-size="7.8" text-anchor="middle">15</text>
<text transform="translate(159.2,339.13) scale(0.92,1)" font-size="7.8" text-anchor="middle">20</text>
<text transform="translate(103.45,348.26) scale(0.95,1)" font-size="7.9" font-weight="bold" text-anchor="middle" class="ax">Concentration  (µM)</text>
<text transform="translate(12.95,290.1) rotate(-90) scale(0.93,1)" class="ax" text-anchor="middle" font-size="8.2" font-weight="bold" fill="#111">Relative cell viability</text>
<line x1="46.6" y1="257.29" x2="46.6" y2="260" stroke="#333" stroke-width="0.8" />
<line x1="44.8" y1="257.29" x2="48.4" y2="257.29" stroke="#333" stroke-width="0.8" />
<line x1="44.8" y1="260" x2="48.4" y2="260" stroke="#333" stroke-width="0.8" />
<line x1="69.12" y1="253.23" x2="69.12" y2="257.29" stroke="#333" stroke-width="0.8" />
<line x1="67.32" y1="253.23" x2="70.92" y2="253.23" stroke="#333" stroke-width="0.8" />
<line x1="67.32" y1="257.29" x2="70.92" y2="257.29" stroke="#333" stroke-width="0.8" />
<line x1="91.64" y1="254.25" x2="91.64" y2="255.6" stroke="#333" stroke-width="0.8" />
<line x1="89.84" y1="254.25" x2="93.44" y2="254.25" stroke="#333" stroke-width="0.8" />
<line x1="89.84" y1="255.6" x2="93.44" y2="255.6" stroke="#333" stroke-width="0.8" />
<line x1="114.16" y1="259.33" x2="114.16" y2="260.68" stroke="#333" stroke-width="0.8" />
<line x1="112.36" y1="259.33" x2="115.96" y2="259.33" stroke="#333" stroke-width="0.8" />
<line x1="112.36" y1="260.68" x2="115.96" y2="260.68" stroke="#333" stroke-width="0.8" />
<line x1="136.68" y1="257.97" x2="136.68" y2="263.39" stroke="#333" stroke-width="0.8" />
<line x1="134.88" y1="257.97" x2="138.48" y2="257.97" stroke="#333" stroke-width="0.8" />
<line x1="134.88" y1="263.39" x2="138.48" y2="263.39" stroke="#333" stroke-width="0.8" />
<line x1="159.2" y1="255.94" x2="159.2" y2="260" stroke="#333" stroke-width="0.8" />
<line x1="157.4" y1="255.94" x2="161" y2="255.94" stroke="#333" stroke-width="0.8" />
<line x1="157.4" y1="260" x2="161" y2="260" stroke="#333" stroke-width="0.8" />
<line x1="46.6" y1="257.97" x2="46.6" y2="259.33" stroke="#333" stroke-width="0.8" />
<line x1="44.8" y1="257.97" x2="48.4" y2="257.97" stroke="#333" stroke-width="0.8" />
<line x1="44.8" y1="259.33" x2="48.4" y2="259.33" stroke="#333" stroke-width="0.8" />
<line x1="69.12" y1="261.36" x2="69.12" y2="264.07" stroke="#333" stroke-width="0.8" />
<line x1="67.32" y1="261.36" x2="70.92" y2="261.36" stroke="#333" stroke-width="0.8" />
<line x1="67.32" y1="264.07" x2="70.92" y2="264.07" stroke="#333" stroke-width="0.8" />
<line x1="91.64" y1="262.04" x2="91.64" y2="267.46" stroke="#333" stroke-width="0.8" />
<line x1="89.84" y1="262.04" x2="93.44" y2="262.04" stroke="#333" stroke-width="0.8" />
<line x1="89.84" y1="267.46" x2="93.44" y2="267.46" stroke="#333" stroke-width="0.8" />
<line x1="114.16" y1="272.88" x2="114.16" y2="274.23" stroke="#333" stroke-width="0.8" />
<line x1="112.36" y1="272.88" x2="115.96" y2="272.88" stroke="#333" stroke-width="0.8" />
<line x1="112.36" y1="274.23" x2="115.96" y2="274.23" stroke="#333" stroke-width="0.8" />
<line x1="136.68" y1="280.33" x2="136.68" y2="283.04" stroke="#333" stroke-width="0.8" />
<line x1="134.88" y1="280.33" x2="138.48" y2="280.33" stroke="#333" stroke-width="0.8" />
<line x1="134.88" y1="283.04" x2="138.48" y2="283.04" stroke="#333" stroke-width="0.8" />
<line x1="159.2" y1="294.22" x2="159.2" y2="296.93" stroke="#333" stroke-width="0.8" />
<line x1="157.4" y1="294.22" x2="161" y2="294.22" stroke="#333" stroke-width="0.8" />
<line x1="157.4" y1="296.93" x2="161" y2="296.93" stroke="#333" stroke-width="0.8" />
<path d="M46.6,258.65 L69.12,255.26 L91.64,254.92 L114.16,260 L136.68,260.68 L159.2,257.97" fill="none" stroke="#000" stroke-width="1.9" stroke-dasharray="4.6,2.2" stroke-linejoin="round"/>
<path d="M46.6,258.65 L69.12,262.71 L91.64,264.75 L114.16,273.56 L136.68,281.69 L159.2,295.57" fill="none" stroke="#000" stroke-width="2" stroke-linejoin="round"/>
<text x="162.6" y="251.69" font-size="7.4" font-weight="bold" text-anchor="end" class="ax">KOCL-48</text>
<line x1="120.8" y1="305.7" x2="139.8" y2="305.7" stroke="#000" stroke-width="1.9" stroke-dasharray="4.6,2.2"/>
<line x1="120.8" y1="316.2" x2="141.4" y2="316.2" stroke="#000" stroke-width="2" />
<text x="143.8" y="308.15" font-size="7">CXR9</text>
<text x="143.8" y="318.65" font-size="7">HXR9</text>
<text x="45.6" y="319.86" font-size="10.6" font-weight="bold" font-style="italic" fill="#000">MLL-AF4</text>
<line x1="207.7" y1="243.1" x2="207.7" y2="326.3" stroke="#333" stroke-width="1" />
<line x1="207.7" y1="326.3" x2="341.1" y2="326.3" stroke="#333" stroke-width="1" />
<line x1="205.1" y1="326.3" x2="207.7" y2="326.3" stroke="#333" stroke-width="1" />
<text transform="translate(201.1,329.03) scale(0.92,1)" font-size="7.8" text-anchor="end">0.0</text>
<line x1="205.1" y1="312.43" x2="207.7" y2="312.43" stroke="#333" stroke-width="1" />
<text transform="translate(201.1,315.16) scale(0.92,1)" font-size="7.8" text-anchor="end">0.2</text>
<line x1="205.1" y1="298.57" x2="207.7" y2="298.57" stroke="#333" stroke-width="1" />
<text transform="translate(201.1,301.3) scale(0.92,1)" font-size="7.8" text-anchor="end">0.4</text>
<line x1="205.1" y1="284.7" x2="207.7" y2="284.7" stroke="#333" stroke-width="1" />
<text transform="translate(201.1,287.43) scale(0.92,1)" font-size="7.8" text-anchor="end">0.6</text>
<line x1="205.1" y1="270.83" x2="207.7" y2="270.83" stroke="#333" stroke-width="1" />
<text transform="translate(201.1,273.56) scale(0.92,1)" font-size="7.8" text-anchor="end">0.8</text>
<line x1="205.1" y1="256.97" x2="207.7" y2="256.97" stroke="#333" stroke-width="1" />
<text transform="translate(201.1,259.7) scale(0.92,1)" font-size="7.8" text-anchor="end">1.0</text>
<line x1="205.1" y1="243.1" x2="207.7" y2="243.1" stroke="#333" stroke-width="1" />
<text transform="translate(201.1,245.83) scale(0.92,1)" font-size="7.8" text-anchor="end">1.2</text>
<line x1="229.97" y1="326.3" x2="229.97" y2="328.7" stroke="#333" stroke-width="1" />
<line x1="252.19" y1="326.3" x2="252.19" y2="328.7" stroke="#333" stroke-width="1" />
<line x1="274.43" y1="326.3" x2="274.43" y2="328.7" stroke="#333" stroke-width="1" />
<line x1="296.65" y1="326.3" x2="296.65" y2="328.7" stroke="#333" stroke-width="1" />
<line x1="318.88" y1="326.3" x2="318.88" y2="328.7" stroke="#333" stroke-width="1" />
<line x1="341.12" y1="326.3" x2="341.12" y2="328.7" stroke="#333" stroke-width="1" />
<text transform="translate(218.85,339.03) scale(0.92,1)" font-size="7.8" text-anchor="middle">0</text>
<text transform="translate(241.08,339.03) scale(0.92,1)" font-size="7.8" text-anchor="middle">1</text>
<text transform="translate(263.31,339.03) scale(0.92,1)" font-size="7.8" text-anchor="middle">5</text>
<text transform="translate(285.54,339.03) scale(0.92,1)" font-size="7.8" text-anchor="middle">10</text>
<text transform="translate(307.77,339.03) scale(0.92,1)" font-size="7.8" text-anchor="middle">15</text>
<text transform="translate(330,339.03) scale(0.92,1)" font-size="7.8" text-anchor="middle">20</text>
<text transform="translate(274.25,348.26) scale(0.95,1)" font-size="7.9" font-weight="bold" text-anchor="middle" class="ax">Concentration  (µM)</text>
<text transform="translate(185.65,288.1) rotate(-90) scale(0.93,1)" class="ax" text-anchor="middle" font-size="8.2" font-weight="bold" fill="#111">Relative cell viability</text>
<line x1="218.85" y1="256.27" x2="218.85" y2="257.66" stroke="#333" stroke-width="0.8" />
<line x1="217.05" y1="256.27" x2="220.65" y2="256.27" stroke="#333" stroke-width="0.8" />
<line x1="217.05" y1="257.66" x2="220.65" y2="257.66" stroke="#333" stroke-width="0.8" />
<line x1="241.08" y1="257.66" x2="241.08" y2="259.05" stroke="#333" stroke-width="0.8" />
<line x1="239.28" y1="257.66" x2="242.88" y2="257.66" stroke="#333" stroke-width="0.8" />
<line x1="239.28" y1="259.05" x2="242.88" y2="259.05" stroke="#333" stroke-width="0.8" />
<line x1="263.31" y1="256.97" x2="263.31" y2="258.35" stroke="#333" stroke-width="0.8" />
<line x1="261.51" y1="256.97" x2="265.11" y2="256.97" stroke="#333" stroke-width="0.8" />
<line x1="261.51" y1="258.35" x2="265.11" y2="258.35" stroke="#333" stroke-width="0.8" />
<line x1="285.54" y1="256.97" x2="285.54" y2="258.35" stroke="#333" stroke-width="0.8" />
<line x1="283.74" y1="256.97" x2="287.34" y2="256.97" stroke="#333" stroke-width="0.8" />
<line x1="283.74" y1="258.35" x2="287.34" y2="258.35" stroke="#333" stroke-width="0.8" />
<line x1="307.77" y1="256.97" x2="307.77" y2="259.74" stroke="#333" stroke-width="0.8" />
<line x1="305.97" y1="256.97" x2="309.57" y2="256.97" stroke="#333" stroke-width="0.8" />
<line x1="305.97" y1="259.74" x2="309.57" y2="259.74" stroke="#333" stroke-width="0.8" />
<line x1="330" y1="256.97" x2="330" y2="259.74" stroke="#333" stroke-width="0.8" />
<line x1="328.2" y1="256.97" x2="331.8" y2="256.97" stroke="#333" stroke-width="0.8" />
<line x1="328.2" y1="259.74" x2="331.8" y2="259.74" stroke="#333" stroke-width="0.8" />
<line x1="218.85" y1="256.27" x2="218.85" y2="257.66" stroke="#333" stroke-width="0.8" />
<line x1="217.05" y1="256.27" x2="220.65" y2="256.27" stroke="#333" stroke-width="0.8" />
<line x1="217.05" y1="257.66" x2="220.65" y2="257.66" stroke="#333" stroke-width="0.8" />
<line x1="241.08" y1="257.66" x2="241.08" y2="259.05" stroke="#333" stroke-width="0.8" />
<line x1="239.28" y1="257.66" x2="242.88" y2="257.66" stroke="#333" stroke-width="0.8" />
<line x1="239.28" y1="259.05" x2="242.88" y2="259.05" stroke="#333" stroke-width="0.8" />
<line x1="263.31" y1="256.27" x2="263.31" y2="263.21" stroke="#333" stroke-width="0.8" />
<line x1="261.51" y1="256.27" x2="265.11" y2="256.27" stroke="#333" stroke-width="0.8" />
<line x1="261.51" y1="263.21" x2="265.11" y2="263.21" stroke="#333" stroke-width="0.8" />
<line x1="285.54" y1="267.37" x2="285.54" y2="270.14" stroke="#333" stroke-width="0.8" />
<line x1="283.74" y1="267.37" x2="287.34" y2="267.37" stroke="#333" stroke-width="0.8" />
<line x1="283.74" y1="270.14" x2="287.34" y2="270.14" stroke="#333" stroke-width="0.8" />
<line x1="307.77" y1="275.69" x2="307.77" y2="279.85" stroke="#333" stroke-width="0.8" />
<line x1="305.97" y1="275.69" x2="309.57" y2="275.69" stroke="#333" stroke-width="0.8" />
<line x1="305.97" y1="279.85" x2="309.57" y2="279.85" stroke="#333" stroke-width="0.8" />
<line x1="330" y1="288.17" x2="330" y2="292.33" stroke="#333" stroke-width="0.8" />
<line x1="328.2" y1="288.17" x2="331.8" y2="288.17" stroke="#333" stroke-width="0.8" />
<line x1="328.2" y1="292.33" x2="331.8" y2="292.33" stroke="#333" stroke-width="0.8" />
<path d="M218.85,256.97 L241.08,258.35 L263.31,257.66 L285.54,257.66 L307.77,258.35 L330,258.35" fill="none" stroke="#000" stroke-width="1.9" stroke-dasharray="4.6,2.2" stroke-linejoin="round"/>
<path d="M218.85,256.97 L241.08,258.35 L263.31,259.74 L285.54,268.75 L307.77,277.77 L330,290.25" fill="none" stroke="#000" stroke-width="2" stroke-linejoin="round"/>
<text x="330.9" y="251.59" font-size="7.4" font-weight="bold" text-anchor="end" class="ax">KG-1a</text>
<line x1="292.8" y1="303.6" x2="311.8" y2="303.6" stroke="#000" stroke-width="1.9" stroke-dasharray="4.6,2.2"/>
<line x1="292.8" y1="315" x2="313.4" y2="315" stroke="#000" stroke-width="2" />
<text x="315.6" y="306.05" font-size="7">CXR9</text>
<text x="315.6" y="317.45" font-size="7">HXR9</text>
<line x1="381" y1="243.3" x2="381" y2="326.6" stroke="#333" stroke-width="1" />
<line x1="381" y1="326.6" x2="513.1" y2="326.6" stroke="#333" stroke-width="1" />
<line x1="378.4" y1="326.6" x2="381" y2="326.6" stroke="#333" stroke-width="1" />
<text transform="translate(374.4,329.33) scale(0.92,1)" font-size="7.8" text-anchor="end">0.0</text>
<line x1="378.4" y1="314.7" x2="381" y2="314.7" stroke="#333" stroke-width="1" />
<text transform="translate(374.4,317.43) scale(0.92,1)" font-size="7.8" text-anchor="end">0.2</text>
<line x1="378.4" y1="302.8" x2="381" y2="302.8" stroke="#333" stroke-width="1" />
<text transform="translate(374.4,305.53) scale(0.92,1)" font-size="7.8" text-anchor="end">0.4</text>
<line x1="378.4" y1="290.9" x2="381" y2="290.9" stroke="#333" stroke-width="1" />
<text transform="translate(374.4,293.63) scale(0.92,1)" font-size="7.8" text-anchor="end">0.6</text>
<line x1="378.4" y1="279" x2="381" y2="279" stroke="#333" stroke-width="1" />
<text transform="translate(374.4,281.73) scale(0.92,1)" font-size="7.8" text-anchor="end">0.8</text>
<line x1="378.4" y1="267.1" x2="381" y2="267.1" stroke="#333" stroke-width="1" />
<text transform="translate(374.4,269.83) scale(0.92,1)" font-size="7.8" text-anchor="end">1.0</text>
<line x1="378.4" y1="255.2" x2="381" y2="255.2" stroke="#333" stroke-width="1" />
<text transform="translate(374.4,257.93) scale(0.92,1)" font-size="7.8" text-anchor="end">1.2</text>
<line x1="378.4" y1="243.3" x2="381" y2="243.3" stroke="#333" stroke-width="1" />
<text transform="translate(374.4,246.03) scale(0.92,1)" font-size="7.8" text-anchor="end">1.4</text>
<line x1="403.46" y1="326.6" x2="403.46" y2="329" stroke="#333" stroke-width="1" />
<line x1="425.39" y1="326.6" x2="425.39" y2="329" stroke="#333" stroke-width="1" />
<line x1="447.32" y1="326.6" x2="447.32" y2="329" stroke="#333" stroke-width="1" />
<line x1="469.25" y1="326.6" x2="469.25" y2="329" stroke="#333" stroke-width="1" />
<line x1="491.19" y1="326.6" x2="491.19" y2="329" stroke="#333" stroke-width="1" />
<line x1="513.12" y1="326.6" x2="513.12" y2="329" stroke="#333" stroke-width="1" />
<text transform="translate(392.5,339.33) scale(0.92,1)" font-size="7.8" text-anchor="middle">0</text>
<text transform="translate(414.43,339.33) scale(0.92,1)" font-size="7.8" text-anchor="middle">1</text>
<text transform="translate(436.36,339.33) scale(0.92,1)" font-size="7.8" text-anchor="middle">5</text>
<text transform="translate(458.29,339.33) scale(0.92,1)" font-size="7.8" text-anchor="middle">10</text>
<text transform="translate(480.22,339.33) scale(0.92,1)" font-size="7.8" text-anchor="middle">15</text>
<text transform="translate(502.15,339.33) scale(0.92,1)" font-size="7.8" text-anchor="middle">20</text>
<text transform="translate(447.6,348.26) scale(0.95,1)" font-size="7.9" font-weight="bold" text-anchor="middle" class="ax">Concentration  (µM)</text>
<text transform="translate(358.95,288.9) rotate(-90) scale(0.93,1)" class="ax" text-anchor="middle" font-size="8.2" font-weight="bold" fill="#111">Relative cell viability</text>
<line x1="392.5" y1="266.5" x2="392.5" y2="267.69" stroke="#333" stroke-width="0.8" />
<line x1="390.7" y1="266.5" x2="394.3" y2="266.5" stroke="#333" stroke-width="0.8" />
<line x1="390.7" y1="267.69" x2="394.3" y2="267.69" stroke="#333" stroke-width="0.8" />
<line x1="414.43" y1="265.31" x2="414.43" y2="266.5" stroke="#333" stroke-width="0.8" />
<line x1="412.63" y1="265.31" x2="416.23" y2="265.31" stroke="#333" stroke-width="0.8" />
<line x1="412.63" y1="266.5" x2="416.23" y2="266.5" stroke="#333" stroke-width="0.8" />
<line x1="436.36" y1="266.5" x2="436.36" y2="267.69" stroke="#333" stroke-width="0.8" />
<line x1="434.56" y1="266.5" x2="438.16" y2="266.5" stroke="#333" stroke-width="0.8" />
<line x1="434.56" y1="267.69" x2="438.16" y2="267.69" stroke="#333" stroke-width="0.8" />
<line x1="458.29" y1="258.18" x2="458.29" y2="260.56" stroke="#333" stroke-width="0.8" />
<line x1="456.49" y1="258.18" x2="460.09" y2="258.18" stroke="#333" stroke-width="0.8" />
<line x1="456.49" y1="260.56" x2="460.09" y2="260.56" stroke="#333" stroke-width="0.8" />
<line x1="480.22" y1="255.8" x2="480.22" y2="259.37" stroke="#333" stroke-width="0.8" />
<line x1="478.42" y1="255.8" x2="482.02" y2="255.8" stroke="#333" stroke-width="0.8" />
<line x1="478.42" y1="259.37" x2="482.02" y2="259.37" stroke="#333" stroke-width="0.8" />
<line x1="502.15" y1="256.39" x2="502.15" y2="262.34" stroke="#333" stroke-width="0.8" />
<line x1="500.35" y1="256.39" x2="503.95" y2="256.39" stroke="#333" stroke-width="0.8" />
<line x1="500.35" y1="262.34" x2="503.95" y2="262.34" stroke="#333" stroke-width="0.8" />
<line x1="392.5" y1="266.21" x2="392.5" y2="267.4" stroke="#333" stroke-width="0.8" />
<line x1="390.7" y1="266.21" x2="394.3" y2="266.21" stroke="#333" stroke-width="0.8" />
<line x1="390.7" y1="267.4" x2="394.3" y2="267.4" stroke="#333" stroke-width="0.8" />
<line x1="414.43" y1="265.91" x2="414.43" y2="267.1" stroke="#333" stroke-width="0.8" />
<line x1="412.63" y1="265.91" x2="416.23" y2="265.91" stroke="#333" stroke-width="0.8" />
<line x1="412.63" y1="267.1" x2="416.23" y2="267.1" stroke="#333" stroke-width="0.8" />
<line x1="436.36" y1="260.2" x2="436.36" y2="264.96" stroke="#333" stroke-width="0.8" />
<line x1="434.56" y1="260.2" x2="438.16" y2="260.2" stroke="#333" stroke-width="0.8" />
<line x1="434.56" y1="264.96" x2="438.16" y2="264.96" stroke="#333" stroke-width="0.8" />
<line x1="458.29" y1="265.31" x2="458.29" y2="266.5" stroke="#333" stroke-width="0.8" />
<line x1="456.49" y1="265.31" x2="460.09" y2="265.31" stroke="#333" stroke-width="0.8" />
<line x1="456.49" y1="266.5" x2="460.09" y2="266.5" stroke="#333" stroke-width="0.8" />
<line x1="480.22" y1="258.18" x2="480.22" y2="262.94" stroke="#333" stroke-width="0.8" />
<line x1="478.42" y1="258.18" x2="482.02" y2="258.18" stroke="#333" stroke-width="0.8" />
<line x1="478.42" y1="262.94" x2="482.02" y2="262.94" stroke="#333" stroke-width="0.8" />
<line x1="502.15" y1="262.34" x2="502.15" y2="265.91" stroke="#333" stroke-width="0.8" />
<line x1="500.35" y1="262.34" x2="503.95" y2="262.34" stroke="#333" stroke-width="0.8" />
<line x1="500.35" y1="265.91" x2="503.95" y2="265.91" stroke="#333" stroke-width="0.8" />
<path d="M392.5,267.1 L414.43,265.91 L436.36,267.1 L458.29,259.37 L480.22,257.58 L502.15,259.37" fill="none" stroke="#000" stroke-width="1.9" stroke-dasharray="4.6,2.2" stroke-linejoin="round"/>
<path d="M392.5,266.8 L414.43,266.5 L436.36,262.58 L458.29,265.91 L480.22,260.56 L502.15,264.12" fill="none" stroke="#000" stroke-width="2" stroke-linejoin="round"/>
<text x="506.2" y="252.29" font-size="7.4" font-weight="bold" text-anchor="end" class="ax">HL-60</text>
<line x1="467.8" y1="299.7" x2="486.8" y2="299.7" stroke="#000" stroke-width="1.9" stroke-dasharray="4.6,2.2"/>
<line x1="467.8" y1="311" x2="488.4" y2="311" stroke="#000" stroke-width="2" />
<text x="490.8" y="302.15" font-size="7">CXR9</text>
<text x="490.8" y="313.45" font-size="7">HXR9</text>
<line x1="35.6" y1="356" x2="35.6" y2="436.2" stroke="#333" stroke-width="1" />
<line x1="35.6" y1="436.2" x2="168.2" y2="436.2" stroke="#333" stroke-width="1" />
<line x1="33" y1="436.2" x2="35.6" y2="436.2" stroke="#333" stroke-width="1" />
<text transform="translate(29,438.93) scale(0.92,1)" font-size="7.8" text-anchor="end">0.0</text>
<line x1="33" y1="422.83" x2="35.6" y2="422.83" stroke="#333" stroke-width="1" />
<text transform="translate(29,425.56) scale(0.92,1)" font-size="7.8" text-anchor="end">0.2</text>
<line x1="33" y1="409.47" x2="35.6" y2="409.47" stroke="#333" stroke-width="1" />
<text transform="translate(29,412.2) scale(0.92,1)" font-size="7.8" text-anchor="end">0.4</text>
<line x1="33" y1="396.1" x2="35.6" y2="396.1" stroke="#333" stroke-width="1" />
<text transform="translate(29,398.83) scale(0.92,1)" font-size="7.8" text-anchor="end">0.6</text>
<line x1="33" y1="382.73" x2="35.6" y2="382.73" stroke="#333" stroke-width="1" />
<text transform="translate(29,385.46) scale(0.92,1)" font-size="7.8" text-anchor="end">0.8</text>
<line x1="33" y1="369.37" x2="35.6" y2="369.37" stroke="#333" stroke-width="1" />
<text transform="translate(29,372.1) scale(0.92,1)" font-size="7.8" text-anchor="end">1.0</text>
<line x1="33" y1="356" x2="35.6" y2="356" stroke="#333" stroke-width="1" />
<text transform="translate(29,358.73) scale(0.92,1)" font-size="7.8" text-anchor="end">1.2</text>
<line x1="46.2" y1="436.2" x2="46.2" y2="438.6" stroke="#333" stroke-width="1" />
<line x1="68.34" y1="436.2" x2="68.34" y2="438.6" stroke="#333" stroke-width="1" />
<line x1="90.48" y1="436.2" x2="90.48" y2="438.6" stroke="#333" stroke-width="1" />
<line x1="112.62" y1="436.2" x2="112.62" y2="438.6" stroke="#333" stroke-width="1" />
<line x1="134.76" y1="436.2" x2="134.76" y2="438.6" stroke="#333" stroke-width="1" />
<line x1="156.9" y1="436.2" x2="156.9" y2="438.6" stroke="#333" stroke-width="1" />
<line x1="168.2" y1="436.2" x2="168.2" y2="438.6" stroke="#333" stroke-width="1" />
<text transform="translate(46.2,448.93) scale(0.92,1)" font-size="7.8" text-anchor="middle">0</text>
<text transform="translate(68.34,448.93) scale(0.92,1)" font-size="7.8" text-anchor="middle">1</text>
<text transform="translate(90.48,448.93) scale(0.92,1)" font-size="7.8" text-anchor="middle">5</text>
<text transform="translate(112.62,448.93) scale(0.92,1)" font-size="7.8" text-anchor="middle">10</text>
<text transform="translate(134.76,448.93) scale(0.92,1)" font-size="7.8" text-anchor="middle">15</text>
<text transform="translate(156.9,448.93) scale(0.92,1)" font-size="7.8" text-anchor="middle">20</text>
<text transform="translate(103.45,459.16) scale(0.95,1)" font-size="7.9" font-weight="bold" text-anchor="middle" class="ax">Concentration  (µM)</text>
<text transform="translate(12.35,400.1) rotate(-90) scale(0.93,1)" class="ax" text-anchor="middle" font-size="8.2" font-weight="bold" fill="#111">Relative cell viability</text>
<line x1="46.2" y1="368.7" x2="46.2" y2="370.03" stroke="#333" stroke-width="0.8" />
<line x1="44.4" y1="368.7" x2="48" y2="368.7" stroke="#333" stroke-width="0.8" />
<line x1="44.4" y1="370.03" x2="48" y2="370.03" stroke="#333" stroke-width="0.8" />
<line x1="68.34" y1="369.37" x2="68.34" y2="370.7" stroke="#333" stroke-width="0.8" />
<line x1="66.54" y1="369.37" x2="70.14" y2="369.37" stroke="#333" stroke-width="0.8" />
<line x1="66.54" y1="370.7" x2="70.14" y2="370.7" stroke="#333" stroke-width="0.8" />
<line x1="90.48" y1="368.7" x2="90.48" y2="371.37" stroke="#333" stroke-width="0.8" />
<line x1="88.68" y1="368.7" x2="92.28" y2="368.7" stroke="#333" stroke-width="0.8" />
<line x1="88.68" y1="371.37" x2="92.28" y2="371.37" stroke="#333" stroke-width="0.8" />
<line x1="112.62" y1="368.7" x2="112.62" y2="371.37" stroke="#333" stroke-width="0.8" />
<line x1="110.82" y1="368.7" x2="114.42" y2="368.7" stroke="#333" stroke-width="0.8" />
<line x1="110.82" y1="371.37" x2="114.42" y2="371.37" stroke="#333" stroke-width="0.8" />
<line x1="134.76" y1="368.03" x2="134.76" y2="372.04" stroke="#333" stroke-width="0.8" />
<line x1="132.96" y1="368.03" x2="136.56" y2="368.03" stroke="#333" stroke-width="0.8" />
<line x1="132.96" y1="372.04" x2="136.56" y2="372.04" stroke="#333" stroke-width="0.8" />
<line x1="156.9" y1="368.03" x2="156.9" y2="372.04" stroke="#333" stroke-width="0.8" />
<line x1="155.1" y1="368.03" x2="158.7" y2="368.03" stroke="#333" stroke-width="0.8" />
<line x1="155.1" y1="372.04" x2="158.7" y2="372.04" stroke="#333" stroke-width="0.8" />
<line x1="46.2" y1="368.7" x2="46.2" y2="370.03" stroke="#333" stroke-width="0.8" />
<line x1="44.4" y1="368.7" x2="48" y2="368.7" stroke="#333" stroke-width="0.8" />
<line x1="44.4" y1="370.03" x2="48" y2="370.03" stroke="#333" stroke-width="0.8" />
<line x1="68.34" y1="369.37" x2="68.34" y2="370.7" stroke="#333" stroke-width="0.8" />
<line x1="66.54" y1="369.37" x2="70.14" y2="369.37" stroke="#333" stroke-width="0.8" />
<line x1="66.54" y1="370.7" x2="70.14" y2="370.7" stroke="#333" stroke-width="0.8" />
<line x1="90.48" y1="371.37" x2="90.48" y2="372.71" stroke="#333" stroke-width="0.8" />
<line x1="88.68" y1="371.37" x2="92.28" y2="371.37" stroke="#333" stroke-width="0.8" />
<line x1="88.68" y1="372.71" x2="92.28" y2="372.71" stroke="#333" stroke-width="0.8" />
<line x1="112.62" y1="374.04" x2="112.62" y2="375.38" stroke="#333" stroke-width="0.8" />
<line x1="110.82" y1="374.04" x2="114.42" y2="374.04" stroke="#333" stroke-width="0.8" />
<line x1="110.82" y1="375.38" x2="114.42" y2="375.38" stroke="#333" stroke-width="0.8" />
<line x1="134.76" y1="376.72" x2="134.76" y2="380.73" stroke="#333" stroke-width="0.8" />
<line x1="132.96" y1="376.72" x2="136.56" y2="376.72" stroke="#333" stroke-width="0.8" />
<line x1="132.96" y1="380.73" x2="136.56" y2="380.73" stroke="#333" stroke-width="0.8" />
<line x1="156.9" y1="376.05" x2="156.9" y2="380.06" stroke="#333" stroke-width="0.8" />
<line x1="155.1" y1="376.05" x2="158.7" y2="376.05" stroke="#333" stroke-width="0.8" />
<line x1="155.1" y1="380.06" x2="158.7" y2="380.06" stroke="#333" stroke-width="0.8" />
<path d="M46.2,369.37 L68.34,370.03 L90.48,370.03 L112.62,370.03 L134.76,370.03 L156.9,370.03" fill="none" stroke="#000" stroke-width="1.9" stroke-dasharray="4.6,2.2" stroke-linejoin="round"/>
<path d="M46.2,369.37 L68.34,370.03 L90.48,372.04 L112.62,374.71 L134.76,378.72 L156.9,378.06" fill="none" stroke="#000" stroke-width="2" stroke-linejoin="round"/>
<text x="163.5" y="362.09" font-size="7.4" font-weight="bold" text-anchor="end" class="ax">K562</text>
<line x1="119" y1="401.7" x2="138" y2="401.7" stroke="#000" stroke-width="1.9" stroke-dasharray="4.6,2.2"/>
<line x1="119" y1="412.5" x2="139.6" y2="412.5" stroke="#000" stroke-width="2" />
<text x="141.8" y="404.15" font-size="7">CXR9</text>
<text x="141.8" y="414.95" font-size="7">HXR9</text>
<line x1="207.8" y1="356.9" x2="207.8" y2="436.3" stroke="#333" stroke-width="1" />
<line x1="207.8" y1="436.3" x2="343.8" y2="436.3" stroke="#333" stroke-width="1" />
<line x1="205.2" y1="436.3" x2="207.8" y2="436.3" stroke="#333" stroke-width="1" />
<text transform="translate(201.2,439.03) scale(0.92,1)" font-size="7.8" text-anchor="end">0.0</text>
<line x1="205.2" y1="423.07" x2="207.8" y2="423.07" stroke="#333" stroke-width="1" />
<text transform="translate(201.2,425.8) scale(0.92,1)" font-size="7.8" text-anchor="end">0.2</text>
<line x1="205.2" y1="409.83" x2="207.8" y2="409.83" stroke="#333" stroke-width="1" />
<text transform="translate(201.2,412.56) scale(0.92,1)" font-size="7.8" text-anchor="end">0.4</text>
<line x1="205.2" y1="396.6" x2="207.8" y2="396.6" stroke="#333" stroke-width="1" />
<text transform="translate(201.2,399.33) scale(0.92,1)" font-size="7.8" text-anchor="end">0.6</text>
<line x1="205.2" y1="383.37" x2="207.8" y2="383.37" stroke="#333" stroke-width="1" />
<text transform="translate(201.2,386.1) scale(0.92,1)" font-size="7.8" text-anchor="end">0.8</text>
<line x1="205.2" y1="370.13" x2="207.8" y2="370.13" stroke="#333" stroke-width="1" />
<text transform="translate(201.2,372.86) scale(0.92,1)" font-size="7.8" text-anchor="end">1.0</text>
<line x1="205.2" y1="356.9" x2="207.8" y2="356.9" stroke="#333" stroke-width="1" />
<text transform="translate(201.2,359.63) scale(0.92,1)" font-size="7.8" text-anchor="end">1.2</text>
<line x1="219.2" y1="436.3" x2="219.2" y2="438.7" stroke="#333" stroke-width="1" />
<line x1="241.9" y1="436.3" x2="241.9" y2="438.7" stroke="#333" stroke-width="1" />
<line x1="264.6" y1="436.3" x2="264.6" y2="438.7" stroke="#333" stroke-width="1" />
<line x1="287.3" y1="436.3" x2="287.3" y2="438.7" stroke="#333" stroke-width="1" />
<line x1="310" y1="436.3" x2="310" y2="438.7" stroke="#333" stroke-width="1" />
<line x1="332.7" y1="436.3" x2="332.7" y2="438.7" stroke="#333" stroke-width="1" />
<line x1="343.8" y1="436.3" x2="343.8" y2="438.7" stroke="#333" stroke-width="1" />
<text transform="translate(219.2,449.03) scale(0.92,1)" font-size="7.8" text-anchor="middle">0</text>
<text transform="translate(241.9,449.03) scale(0.92,1)" font-size="7.8" text-anchor="middle">1</text>
<text transform="translate(264.6,449.03) scale(0.92,1)" font-size="7.8" text-anchor="middle">5</text>
<text transform="translate(287.3,449.03) scale(0.92,1)" font-size="7.8" text-anchor="middle">10</text>
<text transform="translate(310,449.03) scale(0.92,1)" font-size="7.8" text-anchor="middle">15</text>
<text transform="translate(332.7,449.03) scale(0.92,1)" font-size="7.8" text-anchor="middle">20</text>
<text transform="translate(277.5,459.16) scale(0.95,1)" font-size="7.9" font-weight="bold" text-anchor="middle" class="ax">Concentration  (µM)</text>
<text transform="translate(183.95,402.1) rotate(-90) scale(0.93,1)" class="ax" text-anchor="middle" font-size="8.2" font-weight="bold" fill="#111">Relative cell viability</text>
<line x1="219.2" y1="369.47" x2="219.2" y2="370.79" stroke="#333" stroke-width="0.8" />
<line x1="217.4" y1="369.47" x2="221" y2="369.47" stroke="#333" stroke-width="0.8" />
<line x1="217.4" y1="370.79" x2="221" y2="370.79" stroke="#333" stroke-width="0.8" />
<line x1="241.9" y1="366.82" x2="241.9" y2="368.15" stroke="#333" stroke-width="0.8" />
<line x1="240.1" y1="366.82" x2="243.7" y2="366.82" stroke="#333" stroke-width="0.8" />
<line x1="240.1" y1="368.15" x2="243.7" y2="368.15" stroke="#333" stroke-width="0.8" />
<line x1="264.6" y1="364.84" x2="264.6" y2="368.81" stroke="#333" stroke-width="0.8" />
<line x1="262.8" y1="364.84" x2="266.4" y2="364.84" stroke="#333" stroke-width="0.8" />
<line x1="262.8" y1="368.81" x2="266.4" y2="368.81" stroke="#333" stroke-width="0.8" />
<line x1="287.3" y1="369.47" x2="287.3" y2="370.79" stroke="#333" stroke-width="0.8" />
<line x1="285.5" y1="369.47" x2="289.1" y2="369.47" stroke="#333" stroke-width="0.8" />
<line x1="285.5" y1="370.79" x2="289.1" y2="370.79" stroke="#333" stroke-width="0.8" />
<line x1="310" y1="371.13" x2="310" y2="372.45" stroke="#333" stroke-width="0.8" />
<line x1="308.2" y1="371.13" x2="311.8" y2="371.13" stroke="#333" stroke-width="0.8" />
<line x1="308.2" y1="372.45" x2="311.8" y2="372.45" stroke="#333" stroke-width="0.8" />
<line x1="332.7" y1="366.82" x2="332.7" y2="370.79" stroke="#333" stroke-width="0.8" />
<line x1="330.9" y1="366.82" x2="334.5" y2="366.82" stroke="#333" stroke-width="0.8" />
<line x1="330.9" y1="370.79" x2="334.5" y2="370.79" stroke="#333" stroke-width="0.8" />
<line x1="219.2" y1="369.47" x2="219.2" y2="370.79" stroke="#333" stroke-width="0.8" />
<line x1="217.4" y1="369.47" x2="221" y2="369.47" stroke="#333" stroke-width="0.8" />
<line x1="217.4" y1="370.79" x2="221" y2="370.79" stroke="#333" stroke-width="0.8" />
<line x1="241.9" y1="374.1" x2="241.9" y2="375.43" stroke="#333" stroke-width="0.8" />
<line x1="240.1" y1="374.1" x2="243.7" y2="374.1" stroke="#333" stroke-width="0.8" />
<line x1="240.1" y1="375.43" x2="243.7" y2="375.43" stroke="#333" stroke-width="0.8" />
<line x1="264.6" y1="377.41" x2="264.6" y2="380.06" stroke="#333" stroke-width="0.8" />
<line x1="262.8" y1="377.41" x2="266.4" y2="377.41" stroke="#333" stroke-width="0.8" />
<line x1="262.8" y1="380.06" x2="266.4" y2="380.06" stroke="#333" stroke-width="0.8" />
<line x1="287.3" y1="376.75" x2="287.3" y2="380.72" stroke="#333" stroke-width="0.8" />
<line x1="285.5" y1="376.75" x2="289.1" y2="376.75" stroke="#333" stroke-width="0.8" />
<line x1="285.5" y1="380.72" x2="289.1" y2="380.72" stroke="#333" stroke-width="0.8" />
<line x1="310" y1="373.44" x2="310" y2="377.41" stroke="#333" stroke-width="0.8" />
<line x1="308.2" y1="373.44" x2="311.8" y2="373.44" stroke="#333" stroke-width="0.8" />
<line x1="308.2" y1="377.41" x2="311.8" y2="377.41" stroke="#333" stroke-width="0.8" />
<line x1="332.7" y1="372.12" x2="332.7" y2="374.76" stroke="#333" stroke-width="0.8" />
<line x1="330.9" y1="372.12" x2="334.5" y2="372.12" stroke="#333" stroke-width="0.8" />
<line x1="330.9" y1="374.76" x2="334.5" y2="374.76" stroke="#333" stroke-width="0.8" />
<path d="M219.2,370.13 L241.9,367.49 L264.6,366.82 L287.3,370.13 L310,371.79 L332.7,368.81" fill="none" stroke="#000" stroke-width="1.9" stroke-dasharray="4.6,2.2" stroke-linejoin="round"/>
<path d="M219.2,370.13 L241.9,374.76 L264.6,378.74 L287.3,378.74 L310,375.43 L332.7,373.44" fill="none" stroke="#000" stroke-width="2" stroke-linejoin="round"/>
<text x="333.5" y="362.29" font-size="7.4" font-weight="bold" text-anchor="end" class="ax">Jurkat</text>
<line x1="296" y1="400.9" x2="315" y2="400.9" stroke="#000" stroke-width="1.9" stroke-dasharray="4.6,2.2"/>
<line x1="296" y1="410.5" x2="316.6" y2="410.5" stroke="#000" stroke-width="2" />
<text x="318.6" y="403.35" font-size="7">CXR9</text>
<text x="318.6" y="412.95" font-size="7">HXR9</text>
<line x1="35.3" y1="476.8" x2="35.3" y2="557.2" stroke="#333" stroke-width="1" />
<line x1="35.3" y1="557.2" x2="169.2" y2="557.2" stroke="#333" stroke-width="1" />
<line x1="32.7" y1="557.2" x2="35.3" y2="557.2" stroke="#333" stroke-width="1" />
<text transform="translate(28.7,559.93) scale(0.92,1)" font-size="7.8" text-anchor="end">0.0</text>
<line x1="32.7" y1="543.8" x2="35.3" y2="543.8" stroke="#333" stroke-width="1" />
<text transform="translate(28.7,546.53) scale(0.92,1)" font-size="7.8" text-anchor="end">0.2</text>
<line x1="32.7" y1="530.4" x2="35.3" y2="530.4" stroke="#333" stroke-width="1" />
<text transform="translate(28.7,533.13) scale(0.92,1)" font-size="7.8" text-anchor="end">0.4</text>
<line x1="32.7" y1="517" x2="35.3" y2="517" stroke="#333" stroke-width="1" />
<text transform="translate(28.7,519.73) scale(0.92,1)" font-size="7.8" text-anchor="end">0.6</text>
<line x1="32.7" y1="503.6" x2="35.3" y2="503.6" stroke="#333" stroke-width="1" />
<text transform="translate(28.7,506.33) scale(0.92,1)" font-size="7.8" text-anchor="end">0.8</text>
<line x1="32.7" y1="490.2" x2="35.3" y2="490.2" stroke="#333" stroke-width="1" />
<text transform="translate(28.7,492.93) scale(0.92,1)" font-size="7.8" text-anchor="end">1.0</text>
<line x1="32.7" y1="476.8" x2="35.3" y2="476.8" stroke="#333" stroke-width="1" />
<text transform="translate(28.7,479.53) scale(0.92,1)" font-size="7.8" text-anchor="end">1.2</text>
<line x1="46.3" y1="557.2" x2="46.3" y2="559.6" stroke="#333" stroke-width="1" />
<line x1="68.66" y1="557.2" x2="68.66" y2="559.6" stroke="#333" stroke-width="1" />
<line x1="91.02" y1="557.2" x2="91.02" y2="559.6" stroke="#333" stroke-width="1" />
<line x1="113.38" y1="557.2" x2="113.38" y2="559.6" stroke="#333" stroke-width="1" />
<line x1="135.74" y1="557.2" x2="135.74" y2="559.6" stroke="#333" stroke-width="1" />
<line x1="158.1" y1="557.2" x2="158.1" y2="559.6" stroke="#333" stroke-width="1" />
<line x1="169.2" y1="557.2" x2="169.2" y2="559.6" stroke="#333" stroke-width="1" />
<text transform="translate(46.3,569.93) scale(0.92,1)" font-size="7.8" text-anchor="middle">0</text>
<text transform="translate(68.66,569.93) scale(0.92,1)" font-size="7.8" text-anchor="middle">1</text>
<text transform="translate(91.02,569.93) scale(0.92,1)" font-size="7.8" text-anchor="middle">5</text>
<text transform="translate(113.38,569.93) scale(0.92,1)" font-size="7.8" text-anchor="middle">10</text>
<text transform="translate(135.74,569.93) scale(0.92,1)" font-size="7.8" text-anchor="middle">15</text>
<text transform="translate(158.1,569.93) scale(0.92,1)" font-size="7.8" text-anchor="middle">20</text>
<text transform="translate(106.25,580.06) scale(0.95,1)" font-size="7.9" font-weight="bold" text-anchor="middle" class="ax">Concentration  (µM)</text>
<text transform="translate(11.05,521.6) rotate(-90) scale(0.93,1)" class="ax" text-anchor="middle" font-size="8.2" font-weight="bold" fill="#111">Relative cell viability</text>
<line x1="46.3" y1="489.53" x2="46.3" y2="490.87" stroke="#333" stroke-width="0.8" />
<line x1="44.5" y1="489.53" x2="48.1" y2="489.53" stroke="#333" stroke-width="0.8" />
<line x1="44.5" y1="490.87" x2="48.1" y2="490.87" stroke="#333" stroke-width="0.8" />
<line x1="68.66" y1="488.19" x2="68.66" y2="490.87" stroke="#333" stroke-width="0.8" />
<line x1="66.86" y1="488.19" x2="70.46" y2="488.19" stroke="#333" stroke-width="0.8" />
<line x1="66.86" y1="490.87" x2="70.46" y2="490.87" stroke="#333" stroke-width="0.8" />
<line x1="91.02" y1="483.84" x2="91.02" y2="485.18" stroke="#333" stroke-width="0.8" />
<line x1="89.22" y1="483.84" x2="92.82" y2="483.84" stroke="#333" stroke-width="0.8" />
<line x1="89.22" y1="485.18" x2="92.82" y2="485.18" stroke="#333" stroke-width="0.8" />
<line x1="113.38" y1="486.85" x2="113.38" y2="488.19" stroke="#333" stroke-width="0.8" />
<line x1="111.58" y1="486.85" x2="115.18" y2="486.85" stroke="#333" stroke-width="0.8" />
<line x1="111.58" y1="488.19" x2="115.18" y2="488.19" stroke="#333" stroke-width="0.8" />
<line x1="135.74" y1="488.19" x2="135.74" y2="489.53" stroke="#333" stroke-width="0.8" />
<line x1="133.94" y1="488.19" x2="137.54" y2="488.19" stroke="#333" stroke-width="0.8" />
<line x1="133.94" y1="489.53" x2="137.54" y2="489.53" stroke="#333" stroke-width="0.8" />
<line x1="158.1" y1="484.5" x2="158.1" y2="485.85" stroke="#333" stroke-width="0.8" />
<line x1="156.3" y1="484.5" x2="159.9" y2="484.5" stroke="#333" stroke-width="0.8" />
<line x1="156.3" y1="485.85" x2="159.9" y2="485.85" stroke="#333" stroke-width="0.8" />
<line x1="46.3" y1="489.53" x2="46.3" y2="490.87" stroke="#333" stroke-width="0.8" />
<line x1="44.5" y1="489.53" x2="48.1" y2="489.53" stroke="#333" stroke-width="0.8" />
<line x1="44.5" y1="490.87" x2="48.1" y2="490.87" stroke="#333" stroke-width="0.8" />
<line x1="68.66" y1="499.58" x2="68.66" y2="500.92" stroke="#333" stroke-width="0.8" />
<line x1="66.86" y1="499.58" x2="70.46" y2="499.58" stroke="#333" stroke-width="0.8" />
<line x1="66.86" y1="500.92" x2="70.46" y2="500.92" stroke="#333" stroke-width="0.8" />
<line x1="91.02" y1="504.27" x2="91.02" y2="505.61" stroke="#333" stroke-width="0.8" />
<line x1="89.22" y1="504.27" x2="92.82" y2="504.27" stroke="#333" stroke-width="0.8" />
<line x1="89.22" y1="505.61" x2="92.82" y2="505.61" stroke="#333" stroke-width="0.8" />
<line x1="113.38" y1="518.34" x2="113.38" y2="521.02" stroke="#333" stroke-width="0.8" />
<line x1="111.58" y1="518.34" x2="115.18" y2="518.34" stroke="#333" stroke-width="0.8" />
<line x1="111.58" y1="521.02" x2="115.18" y2="521.02" stroke="#333" stroke-width="0.8" />
<line x1="135.74" y1="531.74" x2="135.74" y2="534.42" stroke="#333" stroke-width="0.8" />
<line x1="133.94" y1="531.74" x2="137.54" y2="531.74" stroke="#333" stroke-width="0.8" />
<line x1="133.94" y1="534.42" x2="137.54" y2="534.42" stroke="#333" stroke-width="0.8" />
<line x1="158.1" y1="537.77" x2="158.1" y2="540.45" stroke="#333" stroke-width="0.8" />
<line x1="156.3" y1="537.77" x2="159.9" y2="537.77" stroke="#333" stroke-width="0.8" />
<line x1="156.3" y1="540.45" x2="159.9" y2="540.45" stroke="#333" stroke-width="0.8" />
<path d="M46.3,490.2 L68.66,489.53 L91.02,484.5 L113.38,487.52 L135.74,488.86 L158.1,485.18" fill="none" stroke="#000" stroke-width="1.9" stroke-dasharray="4.6,2.2" stroke-linejoin="round"/>
<path d="M46.3,490.2 L68.66,500.25 L91.02,504.94 L113.38,519.68 L135.74,533.08 L158.1,539.11" fill="none" stroke="#000" stroke-width="2" stroke-linejoin="round"/>
<text x="160.9" y="482.94" font-size="7.4" font-weight="bold" text-anchor="end" class="ax">Patient-1</text>
<line x1="123" y1="504.2" x2="142" y2="504.2" stroke="#000" stroke-width="1.9" stroke-dasharray="4.6,2.2"/>
<line x1="123" y1="513.9" x2="143.6" y2="513.9" stroke="#000" stroke-width="2" />
<text x="146.1" y="506.65" font-size="7">CXR9</text>
<text x="146.1" y="516.35" font-size="7">HXR9</text>
<text x="46.1" y="550.21" font-size="10.6" font-weight="bold" font-style="italic" fill="#000">ML-ENL</text>
<line x1="210.1" y1="477.5" x2="210.1" y2="557.5" stroke="#333" stroke-width="1" />
<line x1="210.1" y1="557.5" x2="342.8" y2="557.5" stroke="#333" stroke-width="1" />
<line x1="207.5" y1="557.5" x2="210.1" y2="557.5" stroke="#333" stroke-width="1" />
<text transform="translate(203.5,560.23) scale(0.92,1)" font-size="7.8" text-anchor="end">0.0</text>
<line x1="207.5" y1="544.17" x2="210.1" y2="544.17" stroke="#333" stroke-width="1" />
<text transform="translate(203.5,546.9) scale(0.92,1)" font-size="7.8" text-anchor="end">0.2</text>
<line x1="207.5" y1="530.83" x2="210.1" y2="530.83" stroke="#333" stroke-width="1" />
<text transform="translate(203.5,533.56) scale(0.92,1)" font-size="7.8" text-anchor="end">0.4</text>
<line x1="207.5" y1="517.5" x2="210.1" y2="517.5" stroke="#333" stroke-width="1" />
<text transform="translate(203.5,520.23) scale(0.92,1)" font-size="7.8" text-anchor="end">0.6</text>
<line x1="207.5" y1="504.17" x2="210.1" y2="504.17" stroke="#333" stroke-width="1" />
<text transform="translate(203.5,506.9) scale(0.92,1)" font-size="7.8" text-anchor="end">0.8</text>
<line x1="207.5" y1="490.83" x2="210.1" y2="490.83" stroke="#333" stroke-width="1" />
<text transform="translate(203.5,493.56) scale(0.92,1)" font-size="7.8" text-anchor="end">1.0</text>
<line x1="207.5" y1="477.5" x2="210.1" y2="477.5" stroke="#333" stroke-width="1" />
<text transform="translate(203.5,480.23) scale(0.92,1)" font-size="7.8" text-anchor="end">1.2</text>
<line x1="232.14" y1="557.5" x2="232.14" y2="559.9" stroke="#333" stroke-width="1" />
<line x1="254.22" y1="557.5" x2="254.22" y2="559.9" stroke="#333" stroke-width="1" />
<line x1="276.3" y1="557.5" x2="276.3" y2="559.9" stroke="#333" stroke-width="1" />
<line x1="298.38" y1="557.5" x2="298.38" y2="559.9" stroke="#333" stroke-width="1" />
<line x1="320.46" y1="557.5" x2="320.46" y2="559.9" stroke="#333" stroke-width="1" />
<line x1="342.54" y1="557.5" x2="342.54" y2="559.9" stroke="#333" stroke-width="1" />
<text transform="translate(221.1,570.23) scale(0.92,1)" font-size="7.8" text-anchor="middle">0</text>
<text transform="translate(243.18,570.23) scale(0.92,1)" font-size="7.8" text-anchor="middle">1</text>
<text transform="translate(265.26,570.23) scale(0.92,1)" font-size="7.8" text-anchor="middle">5</text>
<text transform="translate(287.34,570.23) scale(0.92,1)" font-size="7.8" text-anchor="middle">10</text>
<text transform="translate(309.42,570.23) scale(0.92,1)" font-size="7.8" text-anchor="middle">15</text>
<text transform="translate(331.5,570.23) scale(0.92,1)" font-size="7.8" text-anchor="middle">20</text>
<text transform="translate(278.75,580.06) scale(0.95,1)" font-size="7.9" font-weight="bold" text-anchor="middle" class="ax">Concentration  (µM)</text>
<text transform="translate(186.45,522.8) rotate(-90) scale(0.93,1)" class="ax" text-anchor="middle" font-size="8.2" font-weight="bold" fill="#111">Relative cell viability</text>
<line x1="221.1" y1="490.17" x2="221.1" y2="491.5" stroke="#333" stroke-width="0.8" />
<line x1="219.3" y1="490.17" x2="222.9" y2="490.17" stroke="#333" stroke-width="0.8" />
<line x1="219.3" y1="491.5" x2="222.9" y2="491.5" stroke="#333" stroke-width="0.8" />
<line x1="243.18" y1="487.83" x2="243.18" y2="489.17" stroke="#333" stroke-width="0.8" />
<line x1="241.38" y1="487.83" x2="244.98" y2="487.83" stroke="#333" stroke-width="0.8" />
<line x1="241.38" y1="489.17" x2="244.98" y2="489.17" stroke="#333" stroke-width="0.8" />
<line x1="265.26" y1="487.5" x2="265.26" y2="488.83" stroke="#333" stroke-width="0.8" />
<line x1="263.46" y1="487.5" x2="267.06" y2="487.5" stroke="#333" stroke-width="0.8" />
<line x1="263.46" y1="488.83" x2="267.06" y2="488.83" stroke="#333" stroke-width="0.8" />
<line x1="287.34" y1="486.17" x2="287.34" y2="487.5" stroke="#333" stroke-width="0.8" />
<line x1="285.54" y1="486.17" x2="289.14" y2="486.17" stroke="#333" stroke-width="0.8" />
<line x1="285.54" y1="487.5" x2="289.14" y2="487.5" stroke="#333" stroke-width="0.8" />
<line x1="309.42" y1="488.83" x2="309.42" y2="490.17" stroke="#333" stroke-width="0.8" />
<line x1="307.62" y1="488.83" x2="311.22" y2="488.83" stroke="#333" stroke-width="0.8" />
<line x1="307.62" y1="490.17" x2="311.22" y2="490.17" stroke="#333" stroke-width="0.8" />
<line x1="331.5" y1="490.83" x2="331.5" y2="492.17" stroke="#333" stroke-width="0.8" />
<line x1="329.7" y1="490.83" x2="333.3" y2="490.83" stroke="#333" stroke-width="0.8" />
<line x1="329.7" y1="492.17" x2="333.3" y2="492.17" stroke="#333" stroke-width="0.8" />
<line x1="221.1" y1="490.83" x2="221.1" y2="492.17" stroke="#333" stroke-width="0.8" />
<line x1="219.3" y1="490.83" x2="222.9" y2="490.83" stroke="#333" stroke-width="0.8" />
<line x1="219.3" y1="492.17" x2="222.9" y2="492.17" stroke="#333" stroke-width="0.8" />
<line x1="243.18" y1="502.83" x2="243.18" y2="504.17" stroke="#333" stroke-width="0.8" />
<line x1="241.38" y1="502.83" x2="244.98" y2="502.83" stroke="#333" stroke-width="0.8" />
<line x1="241.38" y1="504.17" x2="244.98" y2="504.17" stroke="#333" stroke-width="0.8" />
<line x1="265.26" y1="507.17" x2="265.26" y2="508.5" stroke="#333" stroke-width="0.8" />
<line x1="263.46" y1="507.17" x2="267.06" y2="507.17" stroke="#333" stroke-width="0.8" />
<line x1="263.46" y1="508.5" x2="267.06" y2="508.5" stroke="#333" stroke-width="0.8" />
<line x1="287.34" y1="516.83" x2="287.34" y2="519.5" stroke="#333" stroke-width="0.8" />
<line x1="285.54" y1="516.83" x2="289.14" y2="516.83" stroke="#333" stroke-width="0.8" />
<line x1="285.54" y1="519.5" x2="289.14" y2="519.5" stroke="#333" stroke-width="0.8" />
<line x1="309.42" y1="529.5" x2="309.42" y2="530.83" stroke="#333" stroke-width="0.8" />
<line x1="307.62" y1="529.5" x2="311.22" y2="529.5" stroke="#333" stroke-width="0.8" />
<line x1="307.62" y1="530.83" x2="311.22" y2="530.83" stroke="#333" stroke-width="0.8" />
<line x1="331.5" y1="533.5" x2="331.5" y2="536.17" stroke="#333" stroke-width="0.8" />
<line x1="329.7" y1="533.5" x2="333.3" y2="533.5" stroke="#333" stroke-width="0.8" />
<line x1="329.7" y1="536.17" x2="333.3" y2="536.17" stroke="#333" stroke-width="0.8" />
<path d="M221.1,490.83 L243.18,488.5 L265.26,488.17 L287.34,486.83 L309.42,489.5 L331.5,491.5" fill="none" stroke="#000" stroke-width="1.9" stroke-dasharray="4.6,2.2" stroke-linejoin="round"/>
<path d="M221.1,491.5 L243.18,503.5 L265.26,507.83 L287.34,518.17 L309.42,530.17 L331.5,534.83" fill="none" stroke="#000" stroke-width="2" stroke-linejoin="round"/>
<text x="335" y="485.09" font-size="7.4" font-weight="bold" text-anchor="end" class="ax">Patient-2</text>
<line x1="297" y1="502.7" x2="316" y2="502.7" stroke="#000" stroke-width="1.9" stroke-dasharray="4.6,2.2"/>
<line x1="297" y1="511.7" x2="317.6" y2="511.7" stroke="#000" stroke-width="2" />
<text x="320.1" y="505.15" font-size="7">CXR9</text>
<text x="320.1" y="514.15" font-size="7">HXR9</text>
<text x="218.4" y="550.21" font-size="10.6" font-weight="bold" font-style="italic" fill="#000">MLL-ELL</text>
<line x1="381.7" y1="475.8" x2="381.7" y2="557.2" stroke="#333" stroke-width="1" />
<line x1="381.7" y1="557.2" x2="516.2" y2="557.2" stroke="#333" stroke-width="1" />
<line x1="379.1" y1="557.2" x2="381.7" y2="557.2" stroke="#333" stroke-width="1" />
<text transform="translate(375.1,559.93) scale(0.92,1)" font-size="7.8" text-anchor="end">0.0</text>
<line x1="379.1" y1="543.63" x2="381.7" y2="543.63" stroke="#333" stroke-width="1" />
<text transform="translate(375.1,546.36) scale(0.92,1)" font-size="7.8" text-anchor="end">0.2</text>
<line x1="379.1" y1="530.07" x2="381.7" y2="530.07" stroke="#333" stroke-width="1" />
<text transform="translate(375.1,532.8) scale(0.92,1)" font-size="7.8" text-anchor="end">0.4</text>
<line x1="379.1" y1="516.5" x2="381.7" y2="516.5" stroke="#333" stroke-width="1" />
<text transform="translate(375.1,519.23) scale(0.92,1)" font-size="7.8" text-anchor="end">0.6</text>
<line x1="379.1" y1="502.93" x2="381.7" y2="502.93" stroke="#333" stroke-width="1" />
<text transform="translate(375.1,505.66) scale(0.92,1)" font-size="7.8" text-anchor="end">0.8</text>
<line x1="379.1" y1="489.37" x2="381.7" y2="489.37" stroke="#333" stroke-width="1" />
<text transform="translate(375.1,492.1) scale(0.92,1)" font-size="7.8" text-anchor="end">1.0</text>
<line x1="379.1" y1="475.8" x2="381.7" y2="475.8" stroke="#333" stroke-width="1" />
<text transform="translate(375.1,478.53) scale(0.92,1)" font-size="7.8" text-anchor="end">1.2</text>
<line x1="403.53" y1="557.2" x2="403.53" y2="559.6" stroke="#333" stroke-width="1" />
<line x1="425.98" y1="557.2" x2="425.98" y2="559.6" stroke="#333" stroke-width="1" />
<line x1="448.43" y1="557.2" x2="448.43" y2="559.6" stroke="#333" stroke-width="1" />
<line x1="470.88" y1="557.2" x2="470.88" y2="559.6" stroke="#333" stroke-width="1" />
<line x1="493.32" y1="557.2" x2="493.32" y2="559.6" stroke="#333" stroke-width="1" />
<line x1="515.77" y1="557.2" x2="515.77" y2="559.6" stroke="#333" stroke-width="1" />
<text transform="translate(392.3,569.93) scale(0.92,1)" font-size="7.8" text-anchor="middle">0</text>
<text transform="translate(414.75,569.93) scale(0.92,1)" font-size="7.8" text-anchor="middle">1</text>
<text transform="translate(437.2,569.93) scale(0.92,1)" font-size="7.8" text-anchor="middle">5</text>
<text transform="translate(459.65,569.93) scale(0.92,1)" font-size="7.8" text-anchor="middle">10</text>
<text transform="translate(482.1,569.93) scale(0.92,1)" font-size="7.8" text-anchor="middle">15</text>
<text transform="translate(504.55,569.93) scale(0.92,1)" font-size="7.8" text-anchor="middle">20</text>
<text transform="translate(449.3,580.06) scale(0.95,1)" font-size="7.9" font-weight="bold" text-anchor="middle" class="ax">Concentration  (µM)</text>
<text transform="translate(357.95,514) rotate(-90) scale(0.93,1)" class="ax" text-anchor="middle" font-size="8.2" font-weight="bold" fill="#111">Relative cell viability</text>
<line x1="392.3" y1="488.69" x2="392.3" y2="490.05" stroke="#333" stroke-width="0.8" />
<line x1="390.5" y1="488.69" x2="394.1" y2="488.69" stroke="#333" stroke-width="0.8" />
<line x1="390.5" y1="490.05" x2="394.1" y2="490.05" stroke="#333" stroke-width="0.8" />
<line x1="414.75" y1="495.13" x2="414.75" y2="496.49" stroke="#333" stroke-width="0.8" />
<line x1="412.95" y1="495.13" x2="416.55" y2="495.13" stroke="#333" stroke-width="0.8" />
<line x1="412.95" y1="496.49" x2="416.55" y2="496.49" stroke="#333" stroke-width="0.8" />
<line x1="437.2" y1="481.9" x2="437.2" y2="483.26" stroke="#333" stroke-width="0.8" />
<line x1="435.4" y1="481.9" x2="439" y2="481.9" stroke="#333" stroke-width="0.8" />
<line x1="435.4" y1="483.26" x2="439" y2="483.26" stroke="#333" stroke-width="0.8" />
<line x1="459.65" y1="489.37" x2="459.65" y2="493.44" stroke="#333" stroke-width="0.8" />
<line x1="457.85" y1="489.37" x2="461.45" y2="489.37" stroke="#333" stroke-width="0.8" />
<line x1="457.85" y1="493.44" x2="461.45" y2="493.44" stroke="#333" stroke-width="0.8" />
<line x1="482.1" y1="488.01" x2="482.1" y2="489.37" stroke="#333" stroke-width="0.8" />
<line x1="480.3" y1="488.01" x2="483.9" y2="488.01" stroke="#333" stroke-width="0.8" />
<line x1="480.3" y1="489.37" x2="483.9" y2="489.37" stroke="#333" stroke-width="0.8" />
<line x1="504.55" y1="481.9" x2="504.55" y2="487.33" stroke="#333" stroke-width="0.8" />
<line x1="502.75" y1="481.9" x2="506.35" y2="481.9" stroke="#333" stroke-width="0.8" />
<line x1="502.75" y1="487.33" x2="506.35" y2="487.33" stroke="#333" stroke-width="0.8" />
<line x1="392.3" y1="488.69" x2="392.3" y2="490.05" stroke="#333" stroke-width="0.8" />
<line x1="390.5" y1="488.69" x2="394.1" y2="488.69" stroke="#333" stroke-width="0.8" />
<line x1="390.5" y1="490.05" x2="394.1" y2="490.05" stroke="#333" stroke-width="0.8" />
<line x1="414.75" y1="495.13" x2="414.75" y2="496.49" stroke="#333" stroke-width="0.8" />
<line x1="412.95" y1="495.13" x2="416.55" y2="495.13" stroke="#333" stroke-width="0.8" />
<line x1="412.95" y1="496.49" x2="416.55" y2="496.49" stroke="#333" stroke-width="0.8" />
<line x1="437.2" y1="488.69" x2="437.2" y2="490.05" stroke="#333" stroke-width="0.8" />
<line x1="435.4" y1="488.69" x2="439" y2="488.69" stroke="#333" stroke-width="0.8" />
<line x1="435.4" y1="490.05" x2="439" y2="490.05" stroke="#333" stroke-width="0.8" />
<line x1="459.65" y1="499.54" x2="459.65" y2="502.25" stroke="#333" stroke-width="0.8" />
<line x1="457.85" y1="499.54" x2="461.45" y2="499.54" stroke="#333" stroke-width="0.8" />
<line x1="457.85" y1="502.25" x2="461.45" y2="502.25" stroke="#333" stroke-width="0.8" />
<line x1="482.1" y1="498.86" x2="482.1" y2="501.58" stroke="#333" stroke-width="0.8" />
<line x1="480.3" y1="498.86" x2="483.9" y2="498.86" stroke="#333" stroke-width="0.8" />
<line x1="480.3" y1="501.58" x2="483.9" y2="501.58" stroke="#333" stroke-width="0.8" />
<line x1="504.55" y1="500.9" x2="504.55" y2="503.61" stroke="#333" stroke-width="0.8" />
<line x1="502.75" y1="500.9" x2="506.35" y2="500.9" stroke="#333" stroke-width="0.8" />
<line x1="502.75" y1="503.61" x2="506.35" y2="503.61" stroke="#333" stroke-width="0.8" />
<path d="M392.3,489.37 L414.75,495.81 L437.2,482.58 L459.65,491.4 L482.1,488.69 L504.55,484.62" fill="none" stroke="#000" stroke-width="1.9" stroke-dasharray="4.6,2.2" stroke-linejoin="round"/>
<path d="M392.3,489.37 L414.75,495.81 L437.2,489.37 L459.65,500.9 L482.1,500.22 L504.55,502.25" fill="none" stroke="#000" stroke-width="2" stroke-linejoin="round"/>
<text x="500.1" y="482.49" font-size="7.4" font-weight="bold" text-anchor="end" class="ax">Patient-3</text>
<line x1="469.9" y1="517.7" x2="488.9" y2="517.7" stroke="#000" stroke-width="1.9" stroke-dasharray="4.6,2.2"/>
<line x1="469.9" y1="529" x2="490.5" y2="529" stroke="#000" stroke-width="2" />
<text x="492.1" y="520.15" font-size="7">CXR9</text>
<text x="492.1" y="531.45" font-size="7">HXR9</text>
</svg>
</body></html>
